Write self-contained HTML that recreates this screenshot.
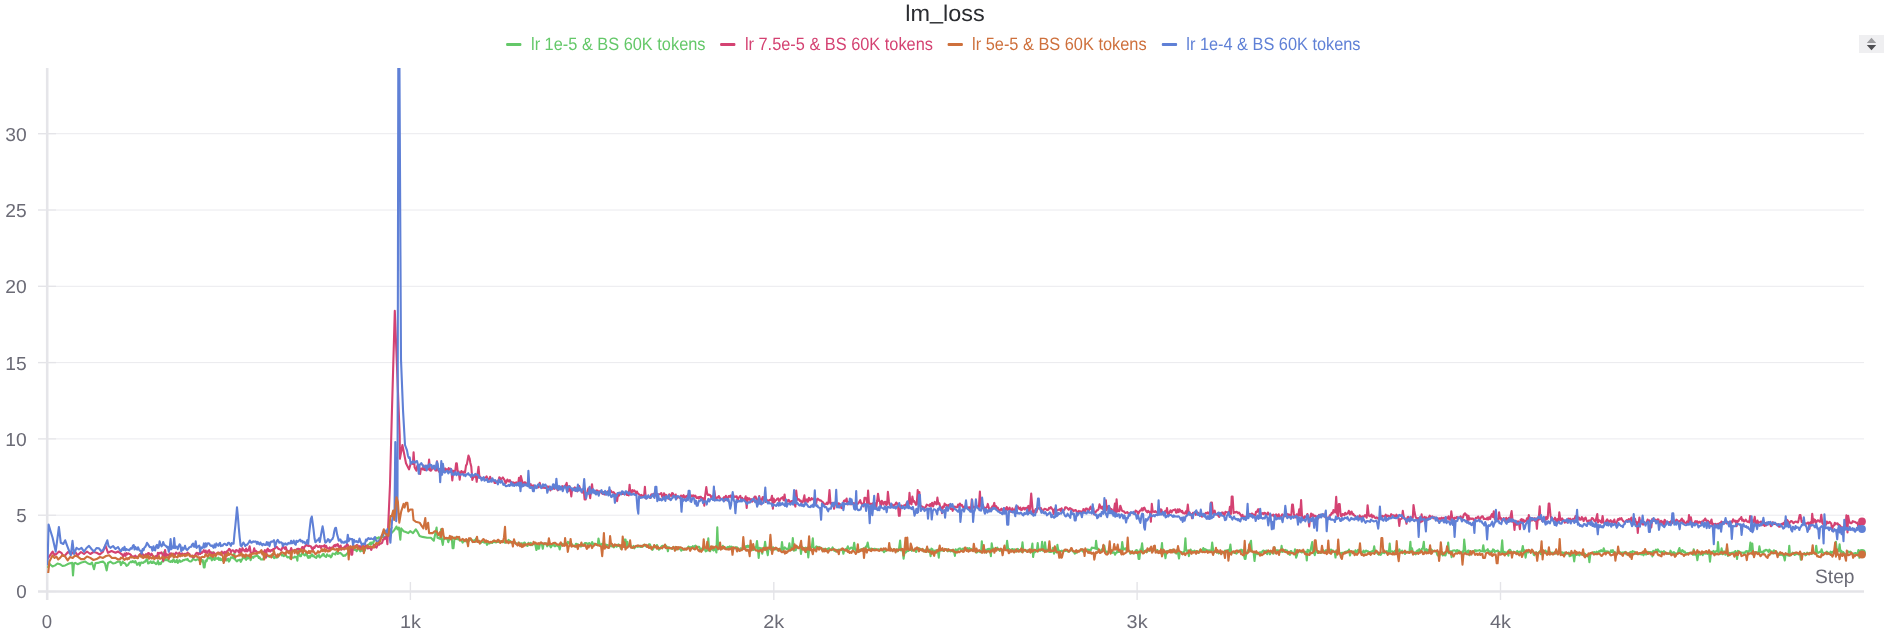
<!DOCTYPE html>
<html><head><meta charset="utf-8"><style>
html,body{margin:0;padding:0;background:#fff;width:1887px;height:636px;overflow:hidden}
body{position:relative;font-family:"Liberation Sans",sans-serif}
#btn{position:absolute;left:1859px;top:35px;width:25px;height:18px;background:#efeff1}
svg{position:absolute;left:0;top:0;will-change:transform;text-rendering:geometricPrecision}
.g{stroke:#eaeaee;stroke-width:1}
.t{stroke:#e4e4e8;stroke-width:1.4}
.ti{font-size:22.7px;fill:#2b2d31}
.lg{font-size:17.8px}
.yl{font-size:18.8px;fill:#6b6b76;text-anchor:end}
.xl{font-size:18.6px;fill:#6b6b76;text-anchor:middle}
.ln path{fill:none;stroke-width:2.1;stroke-linejoin:round}
</style></head><body>
<div id="btn"><svg width="25" height="18" viewBox="0 0 25 18"><path d="M7.8 7.9L12.5 2.7L17.2 7.9Z" fill="#9c9c9f"/><path d="M7.8 10L17.2 10L12.5 15.2Z" fill="#4e4e52"/></svg></div>
<svg width="1887" height="636" viewBox="0 0 1887 636">
<defs><clipPath id="c"><rect x="47" y="68" width="1830" height="530"/></clipPath></defs>
<text x="905.3" y="20.8" class="ti" textLength="79.5" lengthAdjust="spacingAndGlyphs">lm<tspan dy="-2.2">_</tspan><tspan dy="2.2">loss</tspan></text><rect x="506.1" y="43" width="15.3" height="3" rx="1" fill="#64c869"/><text x="531.0" y="49.6" class="lg" fill="#64c869" textLength="174.5" lengthAdjust="spacingAndGlyphs">lr 1e-5 &amp; BS 60K tokens</text><rect x="720.1" y="43" width="15.3" height="3" rx="1" fill="#d44272"/><text x="744.9" y="49.6" class="lg" fill="#d44272" textLength="188.1" lengthAdjust="spacingAndGlyphs">lr 7.5e-5 &amp; BS 60K tokens</text><rect x="947.6" y="43" width="15.3" height="3" rx="1" fill="#ce703c"/><text x="972.1" y="49.6" class="lg" fill="#ce703c" textLength="174.5" lengthAdjust="spacingAndGlyphs">lr 5e-5 &amp; BS 60K tokens</text><rect x="1161.8" y="43" width="15.3" height="3" rx="1" fill="#5f80d6"/><text x="1186.3" y="49.6" class="lg" fill="#5f80d6" textLength="174.2" lengthAdjust="spacingAndGlyphs">lr 1e-4 &amp; BS 60K tokens</text>
<line x1="56" x2="1864" y1="515.2" y2="515.2" class="g"/><line x1="38" x2="56" y1="515.2" y2="515.2" class="t"/><text x="26.6" y="522.1" class="yl">5</text><line x1="56" x2="1864" y1="438.9" y2="438.9" class="g"/><line x1="38" x2="56" y1="438.9" y2="438.9" class="t"/><text x="26.6" y="445.8" class="yl" textLength="21.4" lengthAdjust="spacingAndGlyphs">10</text><line x1="56" x2="1864" y1="362.6" y2="362.6" class="g"/><line x1="38" x2="56" y1="362.6" y2="362.6" class="t"/><text x="26.6" y="369.5" class="yl" textLength="21.4" lengthAdjust="spacingAndGlyphs">15</text><line x1="56" x2="1864" y1="286.3" y2="286.3" class="g"/><line x1="38" x2="56" y1="286.3" y2="286.3" class="t"/><text x="26.6" y="293.2" class="yl" textLength="21.4" lengthAdjust="spacingAndGlyphs">20</text><line x1="56" x2="1864" y1="210.0" y2="210.0" class="g"/><line x1="38" x2="56" y1="210.0" y2="210.0" class="t"/><text x="26.6" y="216.9" class="yl" textLength="21.4" lengthAdjust="spacingAndGlyphs">25</text><line x1="56" x2="1864" y1="133.7" y2="133.7" class="g"/><line x1="38" x2="56" y1="133.7" y2="133.7" class="t"/><text x="26.6" y="140.6" class="yl" textLength="21.4" lengthAdjust="spacingAndGlyphs">30</text><text x="26.6" y="598.4" class="yl">0</text><line x1="38" x2="56" y1="591.5" y2="591.5" class="t"/>
<line x1="47.2" x2="47.2" y1="68" y2="600" stroke="#e5e5e9" stroke-width="2.6"/>
<line x1="38" x2="1864" y1="591.4" y2="591.4" stroke="#e4e4e8" stroke-width="2.5"/>
<line x1="47.0" x2="47.0" y1="582" y2="600" class="t"/><text x="47.0" y="628.3" class="xl">0</text><line x1="410.4" x2="410.4" y1="582" y2="600" class="t"/><text x="410.4" y="628.3" class="xl" textLength="21" lengthAdjust="spacingAndGlyphs">1k</text><line x1="773.8" x2="773.8" y1="582" y2="600" class="t"/><text x="773.8" y="628.3" class="xl" textLength="21" lengthAdjust="spacingAndGlyphs">2k</text><line x1="1137.1" x2="1137.1" y1="582" y2="600" class="t"/><text x="1137.1" y="628.3" class="xl" textLength="21" lengthAdjust="spacingAndGlyphs">3k</text><line x1="1500.5" x2="1500.5" y1="582" y2="600" class="t"/><text x="1500.5" y="628.3" class="xl" textLength="21" lengthAdjust="spacingAndGlyphs">4k</text>
<text x="1854.5" y="583.3" class="yl" style="font-size:19.5px" textLength="39.5" lengthAdjust="spacingAndGlyphs">Step</text>
<g class="ln" clip-path="url(#c)">
<path d="M47.5 567.9L50.0 564.2L52.5 566.5L55.1 565.4L57.5 563.5L60.0 564.2L62.5 566.0L65.2 565.4L69.0 563.5L72.2 562.9L73.0 575.5L74.0 563.5L75.2 562.9L77.7 564.2L81.5 562.5L85.3 561.6L88.0 563.5L90.3 564.2L92.0 562.5L94.0 569.2L95.5 563.0L97.9 562.9L100.5 562.0L103.0 561.6L105.0 563.5L106.7 570.4L108.0 563.0L110.4 561.6L113.0 563.5L115.5 562.9L118.0 561.5L120.0 561.6L121.0 565.1L122.0 563.0L122.7 561.7L123.8 563.0L124.5 563.0L125.5 563.9L126.5 565.8L127.3 565.5L128.2 564.7L129.0 563.2L130.1 562.3L130.9 561.6L131.7 562.3L132.8 561.0L133.5 562.1L134.5 562.5L135.3 561.1L136.3 562.9L137.1 564.9L138.0 563.6L139.1 562.7L139.8 565.6L140.8 562.8L141.8 562.4L142.7 563.0L143.6 562.7L144.4 561.5L145.2 561.6L146.1 560.1L147.2 559.4L148.0 563.4L148.8 563.2L149.8 562.2L150.8 561.4L151.6 562.9L152.6 562.9L153.3 561.4L154.3 562.9L155.2 563.1L156.0 564.1L157.0 563.4L158.0 561.0L158.8 564.4L159.6 563.0L160.7 564.1L161.5 562.3L162.4 561.0L163.4 561.5L164.1 552.1L165.2 560.0L166.1 560.3L167.0 559.2L167.7 560.1L168.8 561.1L169.5 561.6L170.4 561.9L171.5 560.9L172.4 562.0L173.3 559.4L174.1 560.3L174.9 562.1L175.8 562.0L176.8 559.9L177.8 562.9L178.7 561.5L179.4 560.1L180.3 561.8L181.3 561.4L182.3 561.1L183.2 560.0L183.9 560.3L184.9 559.8L185.9 559.4L186.7 559.8L187.6 558.9L188.4 560.6L189.5 561.2L190.4 561.5L191.3 561.2L192.2 560.2L193.0 558.6L193.8 559.3L194.9 559.9L195.6 560.3L196.7 559.6L197.4 559.4L198.5 559.5L199.2 560.3L200.2 559.6L201.0 558.5L202.1 561.7L202.8 560.2L203.8 567.4L204.6 567.4L205.5 560.5L206.5 561.4L207.3 559.0L208.3 557.1L209.2 558.3L210.2 557.2L211.0 558.4L211.9 560.4L212.9 552.2L213.7 559.1L214.7 560.0L215.5 557.9L216.4 558.2L217.2 558.9L218.3 557.6L219.0 560.0L219.9 558.3L220.8 560.1L221.7 559.1L222.8 560.8L223.7 558.5L224.4 559.6L225.4 558.5L226.3 560.5L227.2 560.0L228.1 558.6L229.0 561.6L230.0 559.7L230.9 557.4L231.7 557.7L232.6 557.1L233.5 558.4L234.3 553.4L235.2 559.6L236.1 560.7L237.0 561.3L237.9 560.3L238.9 560.1L239.9 559.7L240.8 561.9L241.7 560.0L242.6 558.4L243.4 557.5L244.4 558.2L245.3 558.5L246.1 559.8L246.9 555.9L247.9 558.6L248.7 556.0L249.6 556.0L250.6 560.2L251.6 557.7L252.3 556.9L253.4 557.8L254.2 556.3L255.0 556.5L256.1 556.1L256.9 555.0L257.7 555.6L258.8 558.0L259.5 557.1L260.6 559.2L261.3 559.5L262.3 559.3L263.1 559.4L264.2 557.0L265.0 556.4L266.0 555.5L266.8 556.3L267.8 555.8L268.6 556.4L269.4 556.8L270.4 555.2L271.4 555.3L272.1 556.8L273.2 555.6L274.1 558.2L274.9 557.2L275.8 557.7L276.7 557.4L277.6 557.4L278.5 554.9L279.3 554.6L280.3 553.6L281.3 554.3L282.0 555.6L283.1 555.0L283.9 556.2L284.7 555.2L285.8 555.0L286.5 556.2L287.4 557.4L288.5 557.3L289.2 557.0L290.3 558.6L291.1 557.3L292.1 557.3L292.9 557.8L293.8 557.5L294.8 556.6L295.5 557.2L296.5 557.0L297.4 560.7L298.3 549.5L299.1 554.1L300.0 556.1L301.0 556.3L301.9 553.3L302.9 553.0L303.7 554.5L304.7 555.4L305.6 554.6L306.4 552.2L307.2 555.9L308.3 557.9L309.0 556.1L309.9 557.7L311.0 555.9L311.8 554.3L312.8 556.2L313.6 555.5L314.5 557.0L315.3 557.4L316.2 557.9L317.3 555.5L318.1 556.5L318.9 555.0L320.0 557.5L320.7 556.5L321.7 556.0L322.5 554.4L323.6 553.8L324.3 555.9L325.2 556.3L326.1 557.0L327.0 554.3L327.9 555.6L328.9 556.1L329.8 555.4L330.8 557.4L331.7 556.3L332.6 553.5L333.5 553.7L334.4 553.7L335.3 554.6L336.0 552.9L336.9 551.5L337.9 554.0L338.7 552.7L339.7 553.2L340.5 552.9L341.4 553.9L342.3 554.7L343.2 556.0L344.3 555.4L345.1 555.7L346.0 554.8L346.8 554.0L347.8 552.6L348.8 552.9L349.5 551.9L350.5 549.9L351.3 550.5L352.2 550.3L353.1 549.2L354.1 549.8L355.0 550.0L356.0 549.9L356.7 551.2L357.6 549.6L358.7 548.6L359.4 549.4L360.3 551.4L361.4 549.8L362.3 550.9L363.1 550.3L363.9 549.8L364.9 550.4L365.8 547.0L366.8 547.0L367.6 545.2L368.4 544.6L369.5 544.0L370.3 542.7L371.1 544.6L372.0 542.4L373.0 543.6L373.8 541.4L374.8 539.5L375.7 538.7L376.5 537.8L377.6 538.5L378.5 537.3L380.0 537.8L384.0 537.0L389.4 535.0L392.3 532.2L394.2 530.3L396.5 526.5L397.5 529.3L398.9 527.5L400.3 539.7L401.2 528.4L403.6 531.2L406.4 532.2L408.3 533.1L410.2 531.2L413.0 533.1L415.8 529.3L417.7 532.2L419.6 535.9L422.5 536.9L427.2 537.8L430.9 537.8L433.8 540.7L436.6 527.5L437.5 537.8L440.0 538.8L441.0 529.4L441.9 540.5L442.8 544.9L443.6 539.2L444.5 538.8L445.6 538.1L446.3 538.7L447.2 538.3L448.3 542.2L449.1 539.7L450.0 538.3L450.9 538.5L451.8 538.1L452.6 548.1L453.5 548.1L454.6 537.5L455.5 539.0L456.3 538.8L457.3 539.2L458.1 538.9L459.1 539.7L459.8 540.6L460.8 540.3L461.7 540.8L462.6 542.6L463.5 541.1L464.3 541.3L465.4 541.0L466.3 541.4L467.0 540.3L468.0 540.0L468.8 541.1L469.7 540.1L470.8 539.6L471.6 539.5L472.4 540.9L473.5 541.0L474.2 540.2L475.3 541.5L476.0 538.6L476.9 541.8L477.8 541.9L478.8 540.6L479.7 541.5L480.7 543.1L481.6 541.1L482.4 542.0L483.2 541.6L484.1 542.7L485.2 542.3L486.0 541.9L487.0 544.9L487.7 543.5L488.6 543.3L489.7 543.5L490.5 542.3L491.3 542.3L492.2 543.0L493.1 541.1L494.0 542.2L494.9 541.3L496.0 542.5L496.8 541.5L497.6 542.0L498.7 541.9L499.4 541.4L500.3 541.3L501.3 541.3L502.3 541.1L503.0 542.2L504.1 541.0L504.8 542.7L505.7 542.8L506.6 541.1L507.5 541.2L508.6 539.9L509.4 541.0L510.4 541.0L511.1 542.7L512.0 542.4L512.9 542.9L514.0 542.6L514.9 542.7L515.7 542.9L516.6 543.7L517.4 543.7L518.5 544.3L519.2 542.7L520.1 543.5L521.1 544.0L521.9 543.2L523.0 544.3L523.9 543.0L524.7 542.5L525.6 544.1L526.6 545.3L527.5 546.0L528.4 542.8L529.1 543.9L530.1 545.1L530.9 542.9L531.9 545.2L532.9 544.1L533.8 544.1L534.7 544.3L535.4 545.1L536.4 550.0L537.2 544.1L538.3 548.7L539.0 548.7L539.9 544.6L540.9 543.7L541.7 543.1L542.8 548.8L543.6 544.0L544.4 543.4L545.4 544.1L546.2 543.4L547.2 546.3L548.0 543.8L548.9 545.1L549.8 545.2L550.8 547.4L551.7 545.9L552.5 544.5L553.5 543.2L554.4 546.1L555.2 546.2L556.1 545.2L557.1 545.4L558.1 546.2L558.8 545.9L559.7 549.4L560.7 545.1L561.7 544.8L562.6 543.8L563.5 544.3L564.2 544.3L565.3 544.5L566.2 543.4L566.9 544.9L567.9 541.8L568.7 543.5L569.8 542.7L570.7 545.1L571.6 543.9L572.5 545.0L573.2 545.8L574.3 546.3L575.0 546.4L575.9 543.8L576.9 544.1L577.8 544.4L578.6 544.8L579.6 545.6L580.5 546.5L581.3 546.4L582.3 545.1L583.2 544.4L584.2 545.1L584.9 543.0L586.0 543.1L586.8 543.2L587.7 544.8L588.7 543.2L589.5 543.0L590.3 544.2L591.4 545.4L592.1 542.1L593.0 543.8L594.0 545.2L594.8 543.7L595.7 544.3L596.8 545.0L597.7 545.1L598.5 538.5L599.5 543.7L600.4 544.8L601.1 544.7L602.1 543.7L603.0 546.5L604.0 543.8L604.8 544.5L605.6 544.5L606.7 545.2L607.6 545.1L608.5 545.6L609.3 545.8L610.3 546.0L611.1 545.5L612.0 546.4L612.8 545.0L613.8 547.4L614.8 545.5L615.7 545.2L616.6 546.7L617.4 545.9L618.4 544.4L619.1 545.9L620.2 546.8L621.0 548.9L621.8 546.1L622.8 546.8L623.7 546.0L624.6 539.6L625.6 539.6L626.3 546.3L627.3 541.8L628.2 546.3L629.1 546.3L630.0 545.7L630.8 546.0L631.8 547.4L632.8 547.4L633.5 545.9L634.4 548.3L635.3 546.9L636.3 546.0L637.3 546.8L638.0 546.9L639.1 545.7L639.9 546.6L640.7 546.9L641.7 547.0L642.5 545.6L643.6 545.7L644.4 544.6L645.2 546.1L646.1 546.0L647.2 546.2L648.1 545.8L648.9 544.2L649.8 544.2L650.8 546.7L651.7 548.0L652.4 549.8L653.3 548.6L654.3 545.6L655.2 546.9L656.0 546.8L656.9 545.0L657.8 546.7L658.8 549.7L659.8 548.8L660.6 548.3L661.4 546.5L662.3 545.7L663.3 545.9L664.3 546.4L665.2 547.6L666.0 545.8L667.0 547.0L667.9 551.3L668.7 547.3L669.7 547.8L670.5 548.2L671.3 548.1L672.3 548.8L673.1 547.5L674.1 548.1L675.1 547.2L676.0 549.8L676.8 547.0L677.6 548.1L678.7 548.1L679.6 548.9L680.5 549.4L681.3 550.6L682.3 549.0L683.1 549.7L683.9 549.7L684.8 548.7L685.9 549.2L686.6 548.4L687.7 548.0L688.5 546.5L689.4 547.3L690.4 547.4L691.1 547.1L692.1 548.0L692.9 546.1L694.0 548.6L694.8 546.2L695.6 545.6L696.5 547.7L697.5 546.9L698.4 546.8L699.2 546.8L700.1 549.3L701.1 548.5L702.0 549.9L702.9 549.5L703.9 548.0L704.8 549.4L705.7 551.3L706.6 550.6L707.4 550.5L708.3 538.4L709.2 550.4L710.1 551.3L710.9 549.0L712.0 546.8L712.7 549.7L713.6 550.6L714.6 548.4L715.6 549.6L716.4 552.5L717.3 527.4L718.2 549.4L719.0 548.5L719.9 547.4L720.9 548.6L721.8 548.4L722.8 545.8L723.6 547.8L724.6 548.4L725.3 547.9L726.2 549.0L727.2 547.3L728.0 546.8L728.9 548.1L729.8 546.4L730.8 547.4L731.7 546.7L732.6 547.6L733.6 547.7L734.4 548.5L735.2 547.2L736.2 547.3L737.0 547.3L738.0 549.3L738.8 550.3L739.8 549.2L740.6 548.3L741.6 548.6L742.5 549.5L743.5 548.6L744.4 547.1L745.2 548.3L746.1 546.0L747.0 547.0L747.8 545.7L748.9 547.2L749.8 545.7L750.7 548.1L751.6 547.2L752.5 548.2L753.2 550.0L754.1 549.6L755.0 547.4L756.0 547.8L757.0 541.0L757.8 547.8L758.7 558.0L759.7 547.7L760.4 548.4L761.5 548.3L762.2 553.7L763.1 548.6L764.2 548.9L765.1 541.7L765.9 548.2L766.7 549.5L767.8 555.2L768.5 548.3L769.4 548.9L770.3 549.0L771.2 550.1L772.3 549.0L773.0 547.3L774.1 549.4L774.8 549.6L775.7 548.2L776.7 548.9L777.5 550.2L778.5 549.4L779.3 548.7L780.3 550.4L781.1 550.2L782.0 542.1L783.1 550.1L783.8 549.3L784.7 547.4L785.8 548.3L786.7 549.2L787.4 548.8L788.4 549.6L789.4 543.4L790.3 549.3L791.1 549.7L791.9 549.8L792.8 538.1L793.9 550.7L794.8 549.8L795.7 550.2L796.6 547.0L797.4 547.4L798.2 547.2L799.3 547.8L800.2 546.4L801.0 553.9L802.0 546.9L802.8 548.6L803.7 548.2L804.6 548.8L805.5 547.7L806.5 552.0L807.4 547.6L808.3 557.5L809.1 549.1L810.0 547.2L811.0 546.9L811.8 547.0L812.8 538.3L813.5 547.5L814.5 549.4L815.4 547.9L816.4 546.3L817.3 546.8L818.0 548.1L819.0 546.8L819.9 548.0L820.7 547.6L821.8 549.9L822.6 549.4L823.6 548.8L824.3 549.0L825.3 548.8L826.1 549.2L827.1 549.3L828.0 548.6L828.9 548.2L829.7 550.4L830.7 549.4L831.6 549.5L832.6 547.4L833.4 549.1L834.3 550.9L835.1 549.7L836.0 551.6L837.1 550.4L837.8 550.0L838.9 549.6L839.7 549.9L840.7 549.8L841.4 549.6L842.5 549.6L843.4 553.7L844.2 550.6L845.2 549.7L846.1 548.8L846.9 548.7L847.8 546.3L848.6 548.5L849.5 549.0L850.6 547.9L851.4 547.5L852.4 548.3L853.1 549.7L854.2 542.7L855.1 549.3L856.0 550.8L856.9 550.8L857.6 548.7L858.5 552.1L859.4 550.0L860.4 550.6L861.2 549.1L862.1 549.6L863.0 550.6L864.1 548.2L864.9 549.3L865.8 546.6L866.7 546.8L867.7 542.6L868.6 547.8L869.4 548.6L870.3 549.9L871.1 548.5L872.0 549.3L872.9 549.1L873.8 549.0L874.7 548.7L875.7 549.1L876.5 550.0L877.4 549.6L878.5 549.2L879.2 549.7L880.1 550.1L881.0 548.7L882.1 550.5L882.9 549.7L883.9 552.2L884.8 551.3L885.5 551.1L886.6 550.5L887.3 549.9L888.3 549.4L889.3 549.6L890.2 547.7L890.9 549.0L891.9 550.5L892.7 550.6L893.6 549.5L894.7 549.7L895.6 550.7L896.4 549.3L897.4 551.4L898.3 550.6L899.0 548.7L900.1 540.6L900.9 550.5L901.7 549.5L902.7 550.5L903.6 558.6L904.6 551.4L905.5 552.7L906.2 552.0L907.2 550.7L908.2 551.0L909.1 550.1L910.0 549.9L910.8 549.2L911.8 550.8L912.5 549.7L913.6 549.9L914.4 550.0L915.4 550.7L916.1 552.0L917.1 549.6L918.1 549.5L919.0 548.1L919.8 549.6L920.8 548.8L921.5 549.7L922.4 550.6L923.4 549.9L924.4 551.5L925.3 550.4L926.0 549.5L926.9 551.9L927.9 549.8L928.8 549.6L929.7 549.9L930.6 556.1L931.4 548.6L932.5 549.3L933.2 551.7L934.1 551.6L935.1 550.3L936.1 550.9L936.8 552.4L937.7 549.8L938.8 557.7L939.6 549.0L940.6 549.2L941.3 550.5L942.4 550.0L943.1 550.8L944.0 550.9L945.1 549.6L946.0 549.7L946.9 549.1L947.8 551.3L948.7 550.1L949.6 550.9L950.4 551.3L951.2 550.1L952.3 551.4L953.1 549.6L953.9 550.9L954.9 555.9L955.7 549.3L956.6 550.9L957.5 550.2L958.5 548.9L959.5 548.4L960.4 548.6L961.3 550.3L962.2 549.9L963.0 548.5L964.0 548.7L964.8 550.1L965.6 548.8L966.5 548.8L967.6 548.1L968.3 549.9L969.4 548.2L970.2 550.2L971.0 548.9L972.0 549.6L972.9 550.5L973.7 551.0L974.6 550.6L975.5 550.2L976.5 552.6L977.5 551.9L978.2 551.0L979.2 551.0L980.1 552.2L981.1 551.7L981.8 541.2L982.7 551.3L983.6 550.0L984.5 549.3L985.4 550.2L986.3 552.7L987.2 549.2L988.1 549.1L989.1 548.7L990.0 549.1L990.9 556.1L991.7 543.4L992.6 549.2L993.5 548.5L994.4 549.3L995.4 549.2L996.4 549.1L997.3 547.6L998.0 549.0L998.9 549.7L999.8 551.0L1000.8 549.6L1001.7 550.2L1002.7 550.1L1003.4 549.2L1004.3 549.2L1005.4 549.6L1006.2 549.2L1007.1 540.8L1008.1 548.7L1008.8 548.9L1009.7 549.6L1010.7 550.7L1011.6 549.2L1012.6 549.1L1013.5 550.8L1014.3 549.4L1015.3 550.0L1016.2 551.7L1016.9 549.7L1017.9 548.9L1018.7 550.5L1019.7 550.7L1020.5 549.5L1021.4 551.8L1022.5 542.3L1023.4 551.4L1024.3 550.4L1025.0 550.1L1026.0 551.0L1026.8 550.7L1027.8 550.3L1028.8 551.0L1029.7 551.7L1030.6 552.1L1031.3 550.6L1032.4 543.6L1033.1 557.0L1034.1 550.8L1034.9 552.1L1035.9 551.4L1036.8 551.0L1037.7 543.0L1038.6 550.6L1039.6 550.4L1040.4 550.8L1041.3 549.9L1042.1 541.8L1043.0 550.8L1044.1 550.8L1045.0 542.2L1045.8 549.4L1046.8 550.0L1047.7 549.9L1048.4 551.4L1049.3 552.0L1050.4 551.7L1051.1 552.0L1052.2 551.2L1053.0 547.7L1054.0 553.7L1054.9 550.8L1055.6 551.6L1056.7 552.5L1057.4 544.9L1058.3 550.4L1059.2 550.5L1060.2 551.4L1061.1 551.2L1061.9 550.6L1063.0 551.9L1063.7 550.8L1064.8 550.7L1065.5 551.0L1066.4 550.6L1067.3 550.9L1068.3 551.8L1069.2 551.5L1070.1 550.2L1071.1 549.4L1071.9 550.3L1072.8 551.4L1073.7 551.3L1074.7 553.6L1075.5 553.2L1076.5 552.6L1077.4 551.9L1078.2 551.6L1079.1 550.8L1079.9 550.5L1081.0 550.5L1081.9 549.3L1082.8 551.5L1083.5 551.3L1084.5 550.9L1085.5 549.5L1086.2 550.3L1087.3 549.5L1088.1 549.5L1088.9 550.8L1089.9 549.9L1090.7 550.3L1091.8 547.6L1092.7 547.7L1093.4 547.9L1094.3 548.0L1095.4 548.6L1096.1 540.8L1097.1 549.3L1098.1 548.7L1098.9 550.8L1099.7 551.3L1100.8 550.5L1101.7 549.6L1102.5 550.6L1103.3 545.7L1104.3 545.7L1105.2 550.7L1106.0 552.4L1106.9 551.6L1107.8 552.7L1108.7 551.3L1109.6 551.9L1110.6 552.7L1111.5 550.2L1112.4 552.8L1113.4 552.2L1114.1 552.5L1115.1 554.7L1115.9 552.8L1116.9 552.6L1117.7 548.3L1118.6 552.0L1119.5 551.9L1120.5 549.6L1121.5 549.8L1122.2 542.0L1123.3 549.8L1124.0 549.4L1124.9 548.5L1125.9 548.3L1126.7 551.2L1127.7 549.4L1128.6 550.8L1129.6 550.9L1130.3 553.8L1131.4 552.8L1132.2 551.3L1133.1 553.4L1133.9 552.7L1135.0 552.9L1135.7 550.4L1136.7 550.1L1137.6 550.6L1138.6 558.9L1139.4 558.9L1140.4 549.4L1141.1 549.9L1142.1 543.4L1143.0 551.6L1143.9 551.9L1144.8 551.6L1145.7 550.3L1146.6 552.4L1147.5 551.4L1148.3 550.0L1149.3 550.7L1150.2 549.7L1151.0 550.7L1152.0 550.3L1153.0 549.1L1153.7 549.5L1154.6 546.4L1155.5 550.7L1156.5 552.1L1157.3 550.0L1158.2 552.3L1159.2 552.3L1160.1 552.3L1160.9 553.3L1162.0 543.1L1162.7 553.2L1163.7 552.9L1164.5 552.5L1165.5 558.2L1166.4 551.2L1167.2 551.7L1168.2 550.8L1169.1 551.0L1170.0 551.4L1171.0 550.5L1171.7 550.7L1172.6 549.7L1173.5 551.2L1174.4 552.5L1175.4 551.3L1176.3 553.6L1177.1 549.9L1178.0 552.8L1179.0 558.5L1179.8 552.4L1180.8 552.1L1181.8 552.4L1182.6 553.7L1183.4 552.0L1184.4 551.5L1185.4 538.3L1186.1 549.8L1187.2 551.4L1188.0 550.4L1188.9 556.1L1189.8 552.0L1190.6 549.6L1191.6 551.2L1192.4 551.3L1193.5 551.6L1194.4 550.6L1195.2 551.2L1196.1 551.8L1197.0 551.2L1198.0 551.4L1198.7 553.0L1199.6 551.4L1200.6 549.5L1201.6 550.4L1202.5 550.8L1203.3 548.0L1204.1 551.8L1205.1 549.2L1206.0 549.9L1206.8 549.8L1207.8 551.5L1208.7 550.4L1209.5 550.3L1210.4 550.8L1211.4 550.3L1212.2 542.6L1213.2 550.6L1214.2 552.3L1215.0 551.0L1215.8 551.6L1216.8 552.5L1217.8 551.9L1218.7 553.4L1219.6 552.9L1220.5 551.9L1221.4 553.6L1222.3 552.1L1223.1 552.1L1223.9 552.9L1225.0 550.5L1225.8 552.5L1226.8 550.3L1227.5 550.5L1228.6 549.9L1229.3 552.2L1230.4 544.6L1231.3 552.5L1232.0 552.1L1232.9 552.4L1234.0 552.6L1234.9 552.9L1235.8 553.2L1236.5 553.6L1237.4 552.4L1238.3 551.1L1239.4 550.3L1240.3 551.3L1241.1 549.7L1242.1 551.9L1243.0 550.1L1243.7 554.2L1244.8 558.9L1245.5 558.9L1246.4 552.6L1247.3 552.1L1248.2 550.0L1249.2 551.6L1250.0 543.4L1251.0 540.8L1251.8 551.2L1252.9 551.8L1253.6 552.2L1254.5 561.0L1255.4 553.6L1256.4 553.4L1257.4 554.1L1258.3 553.0L1259.2 554.0L1260.1 552.1L1260.9 553.0L1261.8 552.3L1262.6 551.0L1263.7 550.5L1264.5 551.8L1265.4 551.8L1266.2 550.5L1267.2 554.3L1268.0 550.9L1269.0 551.3L1270.0 554.3L1270.8 551.6L1271.8 552.2L1272.5 551.7L1273.5 553.7L1274.4 547.4L1275.3 550.7L1276.1 550.4L1277.2 550.2L1278.1 550.3L1279.0 552.9L1279.7 550.9L1280.7 551.8L1281.6 545.8L1282.5 551.9L1283.3 551.5L1284.4 551.2L1285.2 549.9L1286.2 552.4L1286.9 550.4L1287.9 552.6L1288.8 553.8L1289.8 554.9L1290.7 551.1L1291.4 551.1L1292.3 553.1L1293.4 553.1L1294.2 553.1L1295.0 549.4L1296.1 557.6L1297.0 555.4L1297.8 550.3L1298.7 551.1L1299.7 551.7L1300.4 550.9L1301.5 552.5L1302.4 552.0L1303.3 551.4L1304.2 552.5L1305.1 552.4L1305.9 551.7L1306.8 560.5L1307.6 549.9L1308.6 550.2L1309.6 552.1L1310.4 551.3L1311.4 546.0L1312.2 542.1L1313.2 552.2L1314.1 553.2L1314.8 555.2L1315.9 546.0L1316.6 551.1L1317.5 552.8L1318.4 551.4L1319.3 552.6L1320.3 553.0L1321.1 552.7L1322.0 552.4L1323.1 550.2L1323.9 552.4L1324.9 551.9L1325.6 550.4L1326.7 550.3L1327.5 552.4L1328.5 549.5L1329.3 550.2L1330.3 552.5L1331.0 549.5L1332.1 552.4L1332.9 550.4L1333.9 551.8L1334.8 552.2L1335.5 557.5L1336.4 550.4L1337.5 551.3L1338.4 551.6L1339.3 552.5L1340.1 553.1L1341.1 554.1L1341.8 552.7L1342.7 552.9L1343.7 552.8L1344.6 552.5L1345.6 551.7L1346.3 552.4L1347.3 551.0L1348.3 551.5L1349.0 549.6L1350.0 555.5L1350.9 552.0L1351.9 552.0L1352.6 551.6L1353.7 552.0L1354.5 552.4L1355.4 550.3L1356.2 552.2L1357.2 551.8L1358.1 549.8L1359.0 551.4L1359.9 551.6L1360.8 551.9L1361.8 553.2L1362.6 552.3L1363.5 550.7L1364.5 552.6L1365.2 551.5L1366.1 550.5L1367.2 551.6L1367.9 551.2L1368.8 552.1L1369.8 552.1L1370.7 552.2L1371.6 551.4L1372.6 551.1L1373.3 551.7L1374.2 546.4L1375.1 551.9L1376.2 552.7L1377.0 551.4L1377.9 554.0L1378.9 554.8L1379.8 553.9L1380.6 555.0L1381.6 553.4L1382.3 552.4L1383.3 552.7L1384.2 553.2L1385.0 552.5L1385.9 551.7L1386.8 551.0L1387.7 552.4L1388.8 552.5L1389.7 543.6L1390.4 551.9L1391.4 551.6L1392.4 551.3L1393.3 552.4L1394.1 551.8L1395.1 550.7L1395.8 551.9L1396.9 551.9L1397.8 551.4L1398.6 551.3L1399.4 549.4L1400.3 552.6L1401.3 552.0L1402.2 550.6L1403.0 552.6L1404.0 552.3L1405.0 554.0L1405.7 551.7L1406.6 551.7L1407.5 551.7L1408.5 552.7L1409.4 552.3L1410.4 541.8L1411.1 552.4L1412.0 548.3L1413.1 552.4L1413.8 554.0L1414.7 552.5L1415.7 554.3L1416.5 551.4L1417.4 550.4L1418.4 551.3L1419.3 549.1L1420.2 552.3L1421.1 551.8L1422.0 548.5L1422.8 548.5L1423.8 541.8L1424.7 552.5L1425.5 552.0L1426.5 549.2L1427.3 551.2L1428.4 549.8L1429.1 551.5L1430.0 550.2L1431.1 549.4L1432.0 550.2L1432.9 550.8L1433.8 551.0L1434.6 551.4L1435.5 551.4L1436.4 551.8L1437.3 554.7L1438.3 555.8L1439.0 554.4L1440.1 554.4L1440.8 553.9L1441.7 553.7L1442.8 555.3L1443.5 552.7L1444.5 555.3L1445.5 555.4L1446.3 552.4L1447.2 552.5L1448.2 542.6L1449.1 553.3L1450.0 551.8L1450.7 551.2L1451.6 557.1L1452.5 550.8L1453.4 550.5L1454.5 550.4L1455.4 550.7L1456.1 551.9L1457.0 550.0L1457.9 551.2L1459.0 550.6L1459.9 551.7L1460.7 552.8L1461.6 553.7L1462.6 551.3L1463.5 551.9L1464.2 539.5L1465.3 550.2L1466.2 552.4L1467.1 552.7L1467.9 550.8L1468.7 550.6L1469.7 555.3L1470.6 551.4L1471.5 552.5L1472.5 551.2L1473.3 551.9L1474.3 550.8L1475.1 550.1L1475.9 551.3L1476.8 550.4L1477.8 550.7L1478.8 550.5L1479.6 550.0L1480.6 551.1L1481.4 551.2L1482.4 551.2L1483.3 545.2L1484.2 551.8L1485.1 551.4L1486.0 550.4L1486.9 550.2L1487.8 549.2L1488.5 552.2L1489.4 551.2L1490.5 552.5L1491.2 551.3L1492.1 552.1L1493.0 549.4L1494.0 550.0L1494.8 552.0L1495.9 551.1L1496.6 551.1L1497.7 550.5L1498.6 551.5L1499.5 552.2L1500.3 552.5L1501.2 551.9L1502.2 540.3L1503.1 553.2L1503.8 553.9L1504.7 551.8L1505.8 553.4L1506.6 552.9L1507.4 551.8L1508.4 555.7L1509.3 549.7L1510.1 549.7L1511.2 551.7L1511.9 553.5L1512.8 553.6L1513.7 551.7L1514.7 552.1L1515.7 552.8L1516.5 553.4L1517.3 550.9L1518.3 552.8L1519.1 551.9L1520.2 551.5L1521.1 552.0L1521.8 551.2L1522.8 546.0L1523.6 551.5L1524.5 550.4L1525.6 557.6L1526.5 552.4L1527.2 551.3L1528.2 552.4L1529.0 551.1L1529.9 551.5L1530.9 551.7L1531.7 550.8L1532.8 551.1L1533.7 554.6L1534.4 555.2L1535.4 552.5L1536.2 552.3L1537.3 553.1L1538.0 553.5L1539.1 552.0L1539.9 551.2L1540.8 554.3L1541.6 554.3L1542.7 551.9L1543.5 553.6L1544.5 551.8L1545.3 550.5L1546.2 552.4L1547.2 551.6L1548.0 553.0L1549.0 552.3L1549.8 552.6L1550.8 552.3L1551.7 553.6L1552.6 552.6L1553.4 553.0L1554.3 553.6L1555.3 551.7L1556.1 553.6L1557.0 552.9L1558.0 551.7L1558.7 552.1L1559.8 553.5L1560.7 552.2L1561.5 552.7L1562.3 552.3L1563.4 553.7L1564.3 552.5L1565.2 554.6L1566.1 553.3L1566.8 553.6L1567.9 553.5L1568.8 552.5L1569.6 556.2L1570.4 555.8L1571.4 555.5L1572.2 554.9L1573.1 553.4L1574.2 561.4L1575.1 554.5L1575.9 555.1L1576.9 554.8L1577.8 554.6L1578.6 554.3L1579.4 555.4L1580.3 554.1L1581.3 554.2L1582.2 554.2L1583.0 555.2L1583.9 553.5L1584.9 553.8L1585.7 554.5L1586.8 556.1L1587.5 556.2L1588.5 554.7L1589.4 562.2L1590.2 555.4L1591.2 553.1L1592.1 552.9L1592.9 552.9L1594.0 552.1L1594.8 552.3L1595.6 554.0L1596.7 551.7L1597.4 552.5L1598.5 552.1L1599.3 550.9L1600.1 551.6L1601.1 550.2L1602.0 551.3L1602.9 551.4L1603.7 548.3L1604.7 551.1L1605.6 552.7L1606.6 551.3L1607.3 551.4L1608.2 551.6L1609.3 553.0L1610.0 552.8L1611.0 550.3L1611.9 552.0L1612.9 550.2L1613.6 552.4L1614.7 551.8L1615.4 553.8L1616.3 553.4L1617.3 553.3L1618.1 552.7L1619.1 551.7L1620.1 552.2L1620.8 554.1L1621.9 552.5L1622.7 552.5L1623.7 553.0L1624.4 552.2L1625.3 551.9L1626.3 554.3L1627.1 553.4L1628.1 553.3L1629.1 555.4L1629.9 552.3L1630.7 551.8L1631.6 552.6L1632.6 551.1L1633.6 551.8L1634.5 551.7L1635.3 552.4L1636.1 554.0L1637.0 553.0L1637.9 553.4L1638.8 553.6L1639.9 554.2L1640.7 553.9L1641.5 554.4L1642.5 552.3L1643.4 555.3L1644.2 553.4L1645.3 554.0L1646.2 554.5L1646.9 552.7L1648.0 553.9L1648.8 551.9L1649.8 552.8L1650.6 552.1L1651.6 552.3L1652.4 556.4L1653.2 550.9L1654.3 551.9L1655.1 551.3L1656.0 549.6L1657.0 551.6L1657.9 549.4L1658.8 551.3L1659.6 551.4L1660.5 552.4L1661.3 551.6L1662.2 552.6L1663.1 551.9L1664.0 551.2L1665.0 552.2L1665.8 553.0L1666.9 553.6L1667.7 553.3L1668.6 553.9L1669.6 553.7L1670.5 550.7L1671.4 552.4L1672.3 553.7L1673.2 552.5L1673.9 552.0L1675.0 553.9L1675.7 553.3L1676.8 554.0L1677.6 553.7L1678.5 550.4L1679.4 548.1L1680.3 551.7L1681.3 552.5L1682.2 550.0L1683.1 550.8L1683.8 551.9L1684.8 551.6L1685.6 553.7L1686.7 553.4L1687.4 553.0L1688.4 553.8L1689.2 552.8L1690.3 553.3L1691.2 552.5L1691.9 552.8L1693.0 554.8L1693.7 549.2L1694.8 554.6L1695.5 554.2L1696.5 555.1L1697.4 560.2L1698.3 554.0L1699.1 554.0L1700.1 554.7L1701.1 552.8L1702.0 553.5L1702.7 555.2L1703.6 552.6L1704.5 553.4L1705.4 553.6L1706.3 552.6L1707.2 553.9L1708.3 553.5L1709.0 552.6L1710.0 561.7L1710.8 553.8L1711.7 551.7L1712.7 551.8L1713.6 550.9L1714.5 552.5L1715.3 552.0L1716.3 551.0L1717.3 551.4L1718.0 542.0L1718.9 552.1L1719.9 552.9L1720.7 554.0L1721.6 548.4L1722.7 554.3L1723.4 551.5L1724.5 551.5L1725.3 554.7L1726.1 552.9L1727.0 547.4L1727.9 555.9L1728.9 554.6L1729.9 552.9L1730.6 554.4L1731.5 552.9L1732.4 552.8L1733.3 552.3L1734.2 553.1L1735.3 551.0L1736.2 553.0L1737.1 559.0L1737.9 550.9L1738.9 551.3L1739.8 552.3L1740.5 552.3L1741.5 552.8L1742.3 552.7L1743.3 552.5L1744.3 554.2L1745.0 552.4L1745.9 551.2L1747.0 551.0L1747.8 553.3L1748.6 551.4L1749.5 550.6L1750.4 542.5L1751.5 552.1L1752.3 543.5L1753.3 554.8L1754.1 552.2L1755.1 552.0L1756.0 552.9L1756.8 552.5L1757.8 552.1L1758.5 553.4L1759.4 546.4L1760.4 552.3L1761.2 552.1L1762.2 551.7L1763.1 553.8L1764.1 550.5L1765.0 550.8L1765.7 549.9L1766.8 550.1L1767.6 550.7L1768.5 552.0L1769.4 549.7L1770.4 550.9L1771.1 553.4L1772.0 551.4L1773.1 553.5L1773.9 550.3L1774.9 551.2L1775.6 551.2L1776.5 551.9L1777.5 553.1L1778.5 555.2L1779.3 554.9L1780.2 554.1L1781.1 554.9L1781.9 554.5L1782.9 555.4L1783.7 555.4L1784.8 560.4L1785.6 553.9L1786.6 554.4L1787.5 555.2L1788.4 555.6L1789.3 545.7L1790.0 555.6L1791.1 554.5L1791.9 554.3L1792.7 552.7L1793.7 554.0L1794.7 555.0L1795.6 552.9L1796.3 554.2L1797.2 553.0L1798.3 554.4L1799.2 553.5L1799.9 552.8L1800.8 559.6L1801.9 554.4L1802.7 554.0L1803.7 553.7L1804.4 553.0L1805.4 555.3L1806.4 554.8L1807.2 552.7L1808.1 553.4L1808.9 553.5L1810.0 553.4L1810.8 553.7L1811.7 553.9L1812.6 553.4L1813.6 552.9L1814.5 553.1L1815.3 553.1L1816.2 545.7L1817.1 552.1L1818.1 553.0L1819.0 552.3L1819.8 551.7L1820.8 552.0L1821.6 549.2L1822.5 552.2L1823.3 552.8L1824.4 553.6L1825.1 553.3L1826.1 553.5L1826.9 551.7L1827.9 552.8L1828.8 553.8L1829.7 553.8L1830.6 551.7L1831.4 553.3L1832.4 551.9L1833.3 551.8L1834.2 550.9L1835.1 552.7L1835.9 541.7L1836.9 551.9L1837.7 551.4L1838.8 550.7L1839.6 544.4L1840.4 551.8L1841.4 550.8L1842.2 553.2L1843.3 552.1L1844.2 553.4L1845.1 555.9L1845.9 554.1L1846.9 554.0L1847.6 551.6L1848.6 551.5L1849.4 552.2L1850.4 551.7L1851.4 553.0L1852.2 553.8L1853.1 554.7L1854.0 553.2L1854.9 553.3L1855.8 553.0L1856.7 554.7L1857.6 554.0L1858.4 550.0L1859.4 557.8L1860.4 553.4L1862.0 553.0" stroke="#64c869"/><path d="M47.5 559.0L50.0 555.3L52.6 551.6L54.5 555.0L56.4 554.0L59.0 551.5L61.4 552.8L63.3 556.0L65.2 555.3L68.0 552.0L71.4 554.0L74.5 551.0L77.7 555.3L81.0 552.0L84.0 554.0L87.0 551.5L90.3 554.0L93.5 552.0L96.6 552.8L99.8 554.5L103.0 551.6L105.4 545.3L108.0 552.8L111.5 551.0L115.5 552.8L118.0 551.5L120.0 552.8L121.0 553.9L121.8 554.0L122.9 556.1L123.7 556.0L124.5 553.6L125.5 555.8L126.4 553.1L127.2 554.3L128.3 553.3L129.0 553.7L130.0 554.2L130.9 554.8L131.8 557.3L132.7 556.3L133.7 556.8L134.6 556.5L135.3 555.5L136.3 556.9L137.3 557.1L138.0 556.7L138.9 555.7L140.0 554.0L140.7 555.3L141.6 553.1L142.7 554.2L143.5 555.0L144.4 556.4L145.4 554.7L146.1 554.1L147.2 556.5L148.0 553.3L148.8 553.0L149.8 554.7L150.8 555.1L151.5 553.6L152.5 555.3L153.3 557.9L154.4 556.9L155.3 556.6L156.0 555.9L157.1 557.4L157.9 552.8L158.9 553.9L159.8 552.8L160.6 553.2L161.6 552.4L162.5 554.2L163.2 561.0L164.3 554.5L165.1 550.0L166.0 556.1L166.8 554.3L167.9 555.3L168.6 555.8L169.7 553.3L170.4 555.6L171.4 553.4L172.3 554.8L173.2 553.5L174.0 555.1L174.9 554.6L176.0 552.5L176.9 553.4L177.7 553.5L178.7 553.9L179.4 552.7L180.5 554.5L181.2 554.2L182.3 553.3L183.1 554.3L184.0 554.3L185.0 553.8L185.9 554.0L186.8 554.2L187.5 552.5L188.5 553.6L189.3 553.8L190.2 555.4L191.1 556.1L192.2 557.0L192.9 555.7L193.8 557.4L194.8 555.6L195.8 553.9L196.7 552.7L197.6 553.1L198.3 554.7L199.3 552.9L200.3 553.9L201.0 552.0L202.1 552.9L202.9 551.9L203.8 550.2L204.8 552.1L205.7 550.5L206.5 552.7L207.4 552.9L208.2 550.8L209.2 550.2L210.0 552.7L211.0 552.2L211.9 554.2L212.9 553.3L213.7 552.3L214.5 553.4L215.5 553.9L216.3 554.8L217.4 552.9L218.2 552.6L219.1 552.8L220.1 553.2L220.9 554.9L221.8 551.6L222.7 553.4L223.6 553.2L224.4 551.9L225.4 559.7L226.4 551.6L227.2 551.2L228.2 550.3L229.1 548.9L230.0 549.6L230.9 552.1L231.8 550.6L232.7 550.2L233.4 550.4L234.4 552.0L235.3 552.4L236.1 550.1L237.1 550.4L237.9 550.8L238.9 552.6L239.8 548.7L240.6 553.6L241.6 550.8L242.5 548.2L243.5 550.5L244.2 550.0L245.1 551.3L246.1 548.5L247.0 551.4L247.9 549.9L248.7 550.4L249.6 546.3L250.7 552.3L251.4 553.4L252.3 552.9L253.2 552.3L254.2 548.3L255.0 551.4L256.0 550.8L257.0 552.0L257.7 552.4L258.7 552.5L259.7 552.5L260.6 551.3L261.5 552.4L262.2 551.6L263.2 551.8L264.2 552.3L264.9 550.2L265.9 557.6L266.7 550.4L267.8 548.6L268.7 551.2L269.5 550.0L270.3 551.5L271.2 550.0L272.2 550.7L273.2 549.1L273.9 549.0L275.0 548.3L275.8 546.8L276.6 546.8L277.7 548.0L278.4 548.9L279.4 549.1L280.4 549.6L281.2 550.4L282.2 548.1L283.0 546.2L283.8 547.4L284.8 548.8L285.8 547.1L286.6 549.9L287.6 550.7L288.3 551.6L289.3 551.4L290.3 550.6L291.2 548.1L292.0 550.4L292.9 551.0L293.9 550.4L294.8 549.8L295.6 551.4L296.5 549.5L297.4 549.0L298.2 548.7L299.3 549.1L300.1 551.0L301.1 551.1L301.9 547.5L302.7 547.0L303.7 549.1L304.7 546.4L305.5 546.0L306.4 545.0L307.3 545.2L308.2 546.1L309.2 545.6L309.9 546.0L311.0 546.5L311.9 548.6L312.8 549.8L313.5 547.3L314.4 548.0L315.5 545.9L316.3 545.4L317.1 546.0L318.1 546.9L319.0 546.7L319.8 545.8L320.8 547.9L321.7 546.1L322.7 546.2L323.4 546.5L324.5 545.1L325.3 547.5L326.2 545.9L327.1 548.2L327.9 548.3L329.0 548.9L329.7 547.4L330.7 548.8L331.5 547.6L332.5 548.7L333.5 546.2L334.4 545.1L335.1 546.5L336.1 544.7L337.1 545.7L337.8 544.1L338.8 546.5L339.8 548.6L340.7 545.6L341.5 549.8L342.4 548.2L343.4 547.6L344.2 548.3L345.1 546.3L346.0 546.9L347.0 544.0L347.8 544.9L348.7 547.4L349.6 547.4L350.6 546.4L351.3 554.6L352.2 554.6L353.1 545.8L354.2 546.7L355.1 546.7L355.8 545.8L356.7 545.1L357.6 545.3L358.6 547.0L359.5 546.2L360.5 547.7L361.2 546.1L362.3 547.1L363.1 545.0L364.1 546.9L365.0 546.6L365.9 545.8L366.7 545.6L367.6 548.4L368.5 548.2L369.3 548.0L370.3 548.0L371.3 549.9L372.2 547.3L372.9 547.1L373.9 544.8L374.7 545.3L375.6 547.0L376.5 547.7L377.6 545.0L378.5 543.8L379.3 544.7L380.2 543.6L381.1 543.5L382.1 542.9L383.0 539.6L383.7 539.6L384.6 537.5L385.7 538.9L386.5 536.2L387.4 544.2L390.0 484.7L391.8 416.0L394.8 310.7L399.7 435.8L399.9 458.7L402.4 445.0L406.0 463.3L409.0 469.4L411.0 462.6L411.9 462.9L412.9 463.9L413.6 452.3L414.6 467.3L415.5 469.1L416.5 470.6L417.2 466.1L418.3 467.0L419.1 469.7L420.1 474.0L420.9 468.5L421.8 468.6L422.8 469.5L423.7 465.6L424.5 470.0L425.5 470.1L426.4 468.4L427.1 468.7L428.1 469.5L429.1 459.6L430.0 470.4L430.8 470.8L431.6 469.9L432.6 466.7L433.5 468.4L434.4 468.0L435.4 470.4L436.2 470.5L437.0 461.3L438.0 469.4L438.9 471.6L439.9 470.0L440.7 469.2L441.5 474.4L442.6 472.0L443.4 470.8L444.4 471.3L445.2 468.4L446.0 469.8L447.1 469.3L448.0 471.4L448.7 468.1L449.7 469.6L450.6 468.7L451.4 469.7L452.3 480.5L453.4 470.7L454.3 472.8L455.1 472.0L456.1 463.4L456.8 463.4L457.9 473.4L458.7 471.4L459.7 479.7L460.4 473.6L461.4 471.0L462.3 472.1L463.3 473.6L464.1 471.6L465.0 472.6L466.0 465.6L466.9 464.1L467.7 459.8L468.5 455.5L469.6 458.5L470.3 462.7L471.3 466.8L472.3 479.9L473.2 477.7L473.9 476.8L474.8 476.7L475.9 475.9L476.7 481.8L477.5 474.6L478.5 466.9L479.3 475.6L480.4 477.3L481.2 478.7L482.2 478.8L482.9 478.0L483.9 478.2L484.8 477.8L485.7 477.8L486.6 476.3L487.5 478.9L488.4 479.6L489.3 479.0L490.1 476.8L491.0 479.2L491.9 480.5L492.9 480.1L493.8 480.3L494.6 483.0L495.7 483.0L496.5 481.7L497.4 481.3L498.3 481.5L499.3 477.3L500.1 478.1L500.9 479.6L501.8 478.6L502.9 477.4L503.6 478.7L504.7 480.3L505.5 483.3L506.4 482.1L507.4 479.5L508.1 480.5L509.0 481.6L509.9 480.1L510.9 482.1L511.9 482.1L512.8 483.3L513.7 482.4L514.5 484.1L515.3 483.0L516.2 482.3L517.2 483.3L518.2 483.1L519.0 477.7L519.9 482.5L520.9 476.0L521.7 479.4L522.7 483.6L523.5 485.8L524.4 482.4L525.3 482.4L526.2 483.5L527.0 483.5L528.1 483.5L529.0 484.2L529.9 484.5L530.7 484.2L531.6 487.1L532.6 485.7L533.3 485.3L534.4 488.0L535.1 486.6L536.2 487.7L536.9 487.6L538.0 485.2L538.7 487.3L539.7 482.8L540.7 486.5L541.6 487.7L542.5 487.5L543.4 487.8L544.2 487.8L545.2 488.0L546.0 488.0L547.0 486.8L547.9 486.3L548.7 487.3L549.7 486.7L550.4 490.4L551.5 487.8L552.4 487.7L553.1 486.0L554.1 489.0L555.1 486.1L555.9 486.6L556.9 488.6L557.7 490.3L558.5 489.7L559.5 487.5L560.3 488.0L561.3 488.5L562.3 486.1L563.2 487.0L564.0 487.5L565.0 485.8L565.9 484.9L566.7 482.9L567.5 489.1L568.5 491.0L569.3 486.0L570.4 488.8L571.3 496.4L572.1 489.5L573.1 488.7L573.8 490.1L574.9 487.4L575.6 488.6L576.7 490.4L577.4 491.4L578.4 489.3L579.2 486.1L580.1 488.6L581.2 489.9L582.1 492.7L582.8 491.7L583.8 490.2L584.6 499.5L585.7 499.5L586.4 493.6L587.4 491.6L588.4 488.2L589.2 491.6L590.2 498.2L591.1 490.0L592.0 484.2L592.9 492.2L593.6 491.1L594.7 491.2L595.5 493.1L596.5 490.4L597.4 490.6L598.3 494.3L599.2 491.3L599.9 491.3L601.0 492.0L601.7 493.1L602.8 494.0L603.5 492.0L604.5 494.5L605.3 493.1L606.4 494.4L607.1 492.4L608.1 491.0L609.1 492.8L609.9 490.3L610.9 490.7L611.7 492.1L612.7 492.5L613.6 492.1L614.5 493.3L615.4 496.3L616.1 494.4L617.1 501.1L618.1 493.8L619.0 495.6L619.7 493.2L620.6 493.3L621.5 492.2L622.5 493.9L623.3 493.0L624.4 494.5L625.1 493.1L626.2 493.1L626.9 495.0L628.0 493.6L628.7 495.4L629.6 484.7L630.5 494.1L631.6 493.0L632.3 490.1L633.2 491.3L634.3 490.4L635.1 491.4L636.0 493.2L636.9 491.5L637.8 493.4L638.8 494.1L639.5 495.0L640.5 496.4L641.4 494.8L642.4 496.2L643.3 495.8L644.0 497.0L644.9 486.9L645.8 498.5L646.8 497.8L647.8 496.9L648.7 496.4L649.6 497.5L650.4 498.0L651.3 494.5L652.1 494.3L653.2 496.1L654.1 493.5L655.0 494.2L655.9 495.7L656.8 494.1L657.6 495.5L658.6 494.2L659.3 494.2L660.4 494.0L661.3 493.0L662.1 496.4L663.1 498.6L664.0 493.3L664.7 495.9L665.6 494.7L666.5 495.1L667.4 498.0L668.5 498.7L669.3 494.2L670.3 495.8L671.2 495.9L672.1 493.1L673.0 493.4L673.8 496.7L674.8 496.3L675.7 494.5L676.5 498.6L677.5 496.9L678.4 496.9L679.1 497.6L680.0 497.6L681.0 495.5L682.0 496.4L682.8 497.1L683.6 495.1L684.7 497.9L685.5 496.8L686.4 495.9L687.2 498.1L688.2 494.4L689.2 495.5L690.0 495.7L691.0 496.7L691.9 495.3L692.6 496.0L693.7 495.4L694.4 496.7L695.4 495.7L696.4 497.9L697.2 497.9L698.2 497.0L698.9 498.6L699.9 496.7L700.9 496.8L701.7 499.4L702.5 498.0L703.6 498.7L704.3 505.6L705.2 495.4L706.3 487.1L707.1 493.3L707.9 495.0L709.0 494.9L709.9 494.9L710.6 495.7L711.7 499.0L712.4 496.3L713.5 498.4L714.3 490.6L715.1 496.4L716.0 498.3L717.0 497.6L717.9 497.8L718.8 496.0L719.7 497.5L720.5 499.0L721.4 499.1L722.3 499.0L723.4 498.2L724.1 497.1L725.1 500.2L725.9 495.7L726.9 499.6L727.8 498.4L728.7 496.0L729.7 496.8L730.4 495.5L731.5 497.6L732.4 495.9L733.3 495.2L734.1 497.0L735.1 497.0L736.0 496.3L736.7 496.2L737.8 500.1L738.6 497.7L739.6 497.1L740.3 495.8L741.2 499.2L742.2 497.9L743.1 499.5L744.1 499.4L744.8 499.0L745.7 496.3L746.7 507.9L747.5 497.7L748.6 499.5L749.3 498.4L750.2 500.0L751.2 499.2L752.0 501.7L753.1 500.7L753.8 498.5L754.8 496.5L755.7 496.8L756.6 500.6L757.4 499.7L758.4 499.8L759.2 496.1L760.1 499.7L761.2 504.4L761.9 499.2L762.8 497.0L763.7 499.7L764.8 496.3L765.7 502.0L766.6 499.6L767.5 500.7L768.2 501.8L769.2 500.1L770.2 499.7L770.9 500.1L772.0 495.8L772.9 508.7L773.7 498.6L774.6 502.0L775.4 500.5L776.4 500.0L777.2 498.8L778.2 498.4L779.2 501.5L780.1 499.7L780.8 498.5L781.8 498.0L782.6 497.2L783.6 500.2L784.6 494.5L785.3 500.6L786.3 500.6L787.2 501.7L788.2 499.9L789.1 500.2L789.8 502.7L790.7 502.0L791.7 501.0L792.7 501.0L793.6 500.9L794.4 503.4L795.4 506.6L796.2 490.5L797.2 499.7L797.9 499.6L798.8 499.2L799.9 501.0L800.8 500.5L801.6 502.8L802.4 502.5L803.3 500.5L804.4 495.4L805.2 502.8L806.0 499.8L806.9 499.4L807.9 501.8L808.9 497.7L809.7 500.1L810.5 500.1L811.6 498.2L812.3 499.1L813.2 499.4L814.2 498.4L815.1 498.9L816.1 503.9L816.9 499.3L817.8 498.7L818.7 499.7L819.7 500.4L820.6 500.3L821.3 501.0L822.4 501.9L823.3 502.6L824.1 504.2L824.9 504.2L825.9 504.2L826.9 502.7L827.6 504.1L828.5 502.3L829.5 490.1L830.5 503.7L831.3 502.9L832.3 505.4L833.1 502.8L834.1 508.8L834.9 504.7L835.8 503.5L836.6 503.9L837.7 506.7L838.4 503.2L839.5 503.7L840.3 504.5L841.3 508.0L842.1 508.2L843.0 504.9L843.9 500.9L844.7 500.3L845.7 501.2L846.6 498.5L847.4 504.4L848.5 502.0L849.4 503.5L850.2 503.0L851.1 504.4L851.9 502.5L853.0 503.9L853.7 503.1L854.6 503.4L855.7 504.0L856.4 504.7L857.5 504.0L858.3 503.4L859.1 502.2L860.2 500.2L861.0 502.8L862.0 504.1L862.8 503.5L863.6 506.4L864.5 497.7L865.4 497.7L866.4 499.0L867.3 504.2L868.1 490.6L869.0 504.0L870.0 504.1L870.8 503.7L871.7 505.0L872.7 503.2L873.5 503.1L874.5 505.3L875.5 503.3L876.2 507.3L877.2 500.5L878.0 493.7L879.1 501.0L879.9 501.4L880.7 507.1L881.8 500.8L882.7 502.8L883.6 504.4L884.3 502.0L885.4 501.9L886.3 505.3L887.1 504.0L887.9 491.9L888.9 501.2L889.7 504.8L890.6 505.2L891.6 506.8L892.6 504.6L893.4 506.3L894.3 505.4L895.3 504.0L896.2 502.5L896.9 503.3L898.0 506.2L898.9 515.8L899.7 515.8L900.6 505.7L901.6 505.5L902.3 507.7L903.4 506.2L904.2 505.3L905.1 505.2L906.0 504.6L906.9 502.4L907.7 502.4L908.6 506.1L909.5 492.9L910.4 503.2L911.5 504.3L912.4 496.6L913.3 501.8L914.0 500.8L915.0 502.6L916.0 504.8L916.8 503.6L917.7 490.0L918.7 505.0L919.4 492.0L920.3 505.8L921.3 506.1L922.3 506.8L923.2 507.2L923.9 509.5L925.0 507.4L925.7 507.0L926.7 504.6L927.5 505.0L928.4 505.3L929.5 505.9L930.2 504.0L931.2 505.9L932.1 502.8L933.1 506.4L934.0 503.9L934.7 501.9L935.8 503.7L936.6 504.4L937.4 497.6L938.3 503.6L939.4 503.4L940.3 507.3L941.0 507.3L942.0 513.1L942.8 506.6L943.9 507.1L944.6 503.6L945.7 505.3L946.5 504.9L947.4 508.2L948.3 505.1L949.3 504.6L950.2 505.6L950.9 509.0L951.9 508.7L952.7 510.8L953.7 507.5L954.6 506.5L955.5 506.9L956.5 507.2L957.2 507.1L958.1 504.6L959.0 506.8L959.9 503.5L960.9 505.6L961.9 504.9L962.7 506.8L963.7 507.5L964.5 506.5L965.4 508.1L966.2 507.3L967.2 507.3L968.0 508.6L969.1 507.1L969.9 509.2L970.9 510.2L971.8 499.4L972.6 505.6L973.4 507.6L974.3 507.2L975.3 506.8L976.3 506.4L977.2 506.4L977.9 506.3L978.8 508.1L979.9 491.5L980.6 505.1L981.6 507.2L982.5 508.2L983.5 506.5L984.2 508.9L985.3 508.2L986.1 507.8L987.1 506.8L987.8 503.9L988.8 507.7L989.8 511.3L990.7 508.4L991.6 508.1L992.4 506.2L993.3 506.4L994.3 502.9L995.0 506.9L996.1 506.1L996.8 508.5L997.8 507.6L998.7 510.6L999.5 510.7L1000.4 509.8L1001.5 508.7L1002.3 510.5L1003.2 509.2L1004.2 508.4L1005.0 508.3L1005.9 510.7L1006.8 507.1L1007.8 509.9L1008.5 509.0L1009.6 507.6L1010.3 510.5L1011.2 512.0L1012.3 508.3L1013.0 511.6L1014.0 509.6L1014.8 510.6L1015.9 506.8L1016.6 508.3L1017.6 506.3L1018.5 507.7L1019.3 509.1L1020.3 507.5L1021.2 510.1L1022.2 509.7L1023.0 507.8L1024.0 507.8L1024.7 509.5L1025.8 508.1L1026.6 507.8L1027.4 508.9L1028.4 505.9L1029.2 513.0L1030.1 508.3L1031.2 493.6L1032.0 503.0L1033.0 514.4L1033.9 510.7L1034.8 511.8L1035.7 509.1L1036.4 512.2L1037.5 508.5L1038.4 508.5L1039.1 507.6L1040.0 508.5L1040.9 508.0L1042.0 510.6L1042.8 511.3L1043.7 509.8L1044.6 508.7L1045.5 509.1L1046.4 509.4L1047.2 510.1L1048.3 509.8L1049.1 507.9L1049.9 508.4L1050.8 507.1L1051.9 508.7L1052.8 509.6L1053.6 513.9L1054.5 510.0L1055.4 508.1L1056.3 510.5L1057.2 510.4L1058.1 509.8L1058.9 509.8L1060.0 509.0L1060.7 511.0L1061.6 508.3L1062.6 510.8L1063.5 510.3L1064.5 509.6L1065.2 507.4L1066.2 507.3L1067.0 507.8L1068.1 509.2L1068.8 509.8L1069.9 508.1L1070.6 508.5L1071.6 509.4L1072.5 509.5L1073.5 511.2L1074.3 510.7L1075.2 510.0L1076.2 510.5L1076.9 512.4L1077.9 512.2L1078.9 510.9L1079.6 512.3L1080.5 511.4L1081.5 511.5L1082.5 513.4L1083.4 509.0L1084.2 510.0L1085.0 511.9L1085.9 508.5L1086.9 508.6L1087.7 509.7L1088.7 510.9L1089.7 508.2L1090.6 506.7L1091.3 509.2L1092.4 509.7L1093.3 508.2L1094.1 514.4L1095.1 512.4L1096.0 511.6L1096.8 510.4L1097.8 510.2L1098.6 509.0L1099.5 504.4L1100.5 506.6L1101.2 508.5L1102.2 506.7L1103.2 509.6L1104.0 508.6L1104.9 506.2L1105.9 500.2L1106.6 510.3L1107.6 506.5L1108.5 506.1L1109.3 507.0L1110.2 508.7L1111.3 509.0L1112.0 509.9L1113.1 514.0L1113.9 511.3L1114.9 503.6L1115.8 512.6L1116.6 499.3L1117.6 511.5L1118.3 510.6L1119.3 511.2L1120.3 505.7L1121.2 508.4L1121.9 510.6L1122.8 511.2L1123.9 511.2L1124.8 512.8L1125.5 512.9L1126.6 512.6L1127.3 512.0L1128.2 513.3L1129.3 513.2L1130.0 513.1L1131.0 512.5L1132.0 512.9L1132.9 513.4L1133.8 512.3L1134.5 513.7L1135.6 510.6L1136.5 511.2L1137.3 511.6L1138.1 514.2L1139.2 511.9L1140.0 510.6L1141.0 510.4L1141.8 508.3L1142.7 510.5L1143.7 507.9L1144.4 507.6L1145.5 510.2L1146.2 511.0L1147.3 512.4L1148.1 510.8L1149.0 512.0L1150.0 511.9L1150.9 521.8L1151.8 503.8L1152.7 511.6L1153.6 511.7L1154.4 511.9L1155.4 511.1L1156.3 512.2L1157.1 512.5L1157.9 512.2L1159.0 512.0L1159.8 512.8L1160.8 509.2L1161.5 509.8L1162.4 514.2L1163.3 513.4L1164.4 513.9L1165.2 510.9L1166.2 512.5L1167.0 508.1L1167.9 514.4L1168.8 513.7L1169.6 512.1L1170.6 510.3L1171.5 512.5L1172.5 510.7L1173.3 510.1L1174.1 509.9L1175.2 509.3L1176.1 512.6L1176.9 512.6L1177.7 509.3L1178.7 512.1L1179.5 509.3L1180.5 510.5L1181.4 512.1L1182.2 510.9L1183.2 513.3L1184.1 513.2L1184.9 513.6L1185.8 511.3L1186.8 513.8L1187.8 504.5L1188.7 512.8L1189.5 512.1L1190.3 513.9L1191.2 514.1L1192.1 518.2L1193.0 512.8L1194.1 513.1L1194.8 512.5L1195.8 514.9L1196.6 512.5L1197.6 512.4L1198.6 513.7L1199.4 514.1L1200.4 514.5L1201.1 516.0L1202.0 516.6L1202.9 515.3L1203.8 514.6L1204.7 514.3L1205.8 512.8L1206.7 513.5L1207.6 512.4L1208.3 513.4L1209.3 513.7L1210.2 510.6L1211.0 502.5L1211.9 502.5L1213.0 513.8L1213.8 512.2L1214.7 510.7L1215.5 514.3L1216.6 514.4L1217.3 513.9L1218.3 515.7L1219.2 517.0L1220.0 513.4L1221.1 514.3L1221.8 512.5L1222.9 512.6L1223.7 514.5L1224.5 515.3L1225.4 511.7L1226.4 512.3L1227.4 512.4L1228.1 512.3L1229.2 512.4L1229.9 506.8L1230.9 513.9L1231.7 496.6L1232.6 496.6L1233.6 513.2L1234.6 512.0L1235.3 512.5L1236.4 511.8L1237.2 512.2L1238.1 513.3L1239.0 512.5L1239.8 513.6L1240.9 515.5L1241.8 516.9L1242.5 514.8L1243.4 518.7L1244.3 516.5L1245.3 518.2L1246.2 516.4L1247.2 517.5L1248.1 513.4L1249.0 516.0L1249.9 513.9L1250.6 516.0L1251.7 513.6L1252.5 513.8L1253.3 515.5L1254.3 514.9L1255.3 515.7L1256.0 511.7L1257.1 512.0L1258.0 509.2L1258.9 509.2L1259.6 514.2L1260.6 514.3L1261.4 514.2L1262.3 513.0L1263.3 514.2L1264.2 512.7L1265.1 513.0L1266.1 515.3L1266.9 514.9L1267.9 512.5L1268.8 514.2L1269.7 515.0L1270.4 514.9L1271.4 515.5L1272.4 515.5L1273.3 514.6L1274.0 516.5L1275.1 515.4L1276.0 514.4L1276.9 515.2L1277.6 518.1L1278.7 514.2L1279.4 517.6L1280.4 517.2L1281.3 516.0L1282.3 514.3L1283.0 515.5L1284.0 515.9L1284.9 516.3L1285.7 516.3L1286.7 516.5L1287.7 514.0L1288.6 514.9L1289.3 514.6L1290.2 516.5L1291.3 514.8L1292.1 504.6L1292.9 504.6L1293.9 513.7L1294.7 517.2L1295.8 517.5L1296.7 514.3L1297.5 517.5L1298.5 514.2L1299.2 509.3L1300.1 515.7L1301.1 500.0L1302.0 516.0L1302.9 517.7L1303.9 519.7L1304.6 516.4L1305.5 517.1L1306.6 515.9L1307.4 514.0L1308.3 518.0L1309.2 526.5L1310.1 518.0L1311.1 513.6L1311.8 515.8L1312.8 514.3L1313.6 516.8L1314.6 515.6L1315.5 515.9L1316.4 516.8L1317.3 516.3L1318.2 518.6L1319.1 514.8L1319.9 515.8L1320.9 515.9L1321.7 515.3L1322.7 515.7L1323.5 514.4L1324.5 515.1L1325.3 517.3L1326.4 516.7L1327.3 519.2L1328.0 518.5L1329.1 517.3L1330.0 515.1L1330.7 515.1L1331.7 512.8L1332.7 513.5L1333.4 510.1L1334.3 510.7L1335.2 512.4L1336.2 496.7L1337.1 513.8L1337.9 516.3L1338.8 504.1L1339.7 504.1L1340.7 515.9L1341.5 516.4L1342.5 514.0L1343.5 514.3L1344.3 515.3L1345.2 512.8L1346.1 514.2L1347.0 513.8L1348.0 512.9L1348.8 510.8L1349.8 514.5L1350.7 512.5L1351.6 511.5L1352.4 514.4L1353.3 513.9L1354.2 515.5L1355.0 515.7L1356.0 517.1L1356.8 519.1L1357.9 517.3L1358.6 517.5L1359.7 515.4L1360.5 517.4L1361.4 516.9L1362.4 516.3L1363.3 517.5L1364.1 516.2L1365.0 515.1L1365.9 516.5L1366.7 517.7L1367.6 505.2L1368.7 515.0L1369.4 516.1L1370.3 516.3L1371.4 514.5L1372.3 517.4L1373.1 515.7L1373.9 516.2L1375.0 517.9L1375.9 517.9L1376.7 517.3L1377.7 518.0L1378.4 519.0L1379.5 517.6L1380.2 517.6L1381.3 519.1L1382.1 515.8L1383.0 516.6L1383.9 516.3L1384.8 516.2L1385.7 514.7L1386.5 516.9L1387.5 515.5L1388.5 516.0L1389.4 516.3L1390.1 517.3L1391.2 514.2L1392.1 515.5L1392.8 515.4L1393.8 515.2L1394.7 516.2L1395.6 516.2L1396.4 514.6L1397.4 516.4L1398.3 517.1L1399.3 526.0L1400.1 519.2L1401.1 518.9L1401.9 518.5L1402.8 510.8L1403.6 516.2L1404.7 519.1L1405.6 519.5L1406.5 523.8L1407.4 517.6L1408.2 516.8L1409.2 521.1L1410.1 518.2L1411.0 517.2L1411.7 519.2L1412.8 517.8L1413.5 505.0L1414.4 510.9L1415.4 516.4L1416.3 518.1L1417.1 520.3L1418.0 518.0L1419.1 522.0L1419.9 517.2L1420.8 522.2L1421.6 514.3L1422.5 521.2L1423.5 518.0L1424.5 516.8L1425.2 519.8L1426.2 517.4L1427.1 519.1L1427.9 519.6L1428.9 517.0L1429.7 515.7L1430.7 516.9L1431.5 517.0L1432.4 516.3L1433.3 518.4L1434.2 517.3L1435.3 517.6L1436.1 518.2L1437.1 518.0L1438.0 520.8L1438.9 518.3L1439.7 518.4L1440.6 519.0L1441.6 517.6L1442.3 519.5L1443.3 517.9L1444.1 517.7L1445.2 519.3L1445.9 519.3L1446.9 517.4L1447.9 518.7L1448.6 516.3L1449.7 519.7L1450.6 519.8L1451.3 511.3L1452.2 517.5L1453.3 518.1L1454.0 519.5L1454.9 517.7L1456.0 518.2L1456.7 517.0L1457.7 517.2L1458.5 518.3L1459.4 517.8L1460.5 516.4L1461.3 517.6L1462.2 518.2L1463.0 517.4L1463.9 514.4L1465.0 513.3L1465.9 514.9L1466.6 514.5L1467.6 520.6L1468.5 515.8L1469.4 519.5L1470.3 518.4L1471.3 518.9L1472.1 518.6L1473.0 518.5L1473.8 520.0L1474.9 520.4L1475.8 517.8L1476.6 518.1L1477.4 517.7L1478.3 516.5L1479.4 519.5L1480.3 518.9L1481.0 517.3L1482.0 516.4L1482.8 516.4L1483.8 519.1L1484.6 518.6L1485.5 519.0L1486.6 519.3L1487.3 517.6L1488.2 519.5L1489.2 517.2L1490.2 519.0L1491.1 515.7L1491.9 514.1L1492.8 517.0L1493.8 511.2L1494.7 519.0L1495.6 518.2L1496.5 518.8L1497.3 520.5L1498.2 519.9L1499.1 512.3L1499.9 518.5L1500.8 517.9L1501.7 520.6L1502.7 520.8L1503.6 518.0L1504.6 519.3L1505.4 520.6L1506.2 517.7L1507.2 519.6L1508.1 521.0L1508.9 517.7L1510.0 521.4L1510.7 515.4L1511.6 511.1L1512.7 521.6L1513.6 520.3L1514.5 529.9L1515.3 520.7L1516.3 523.0L1517.0 524.8L1518.0 521.3L1518.9 523.2L1519.9 529.2L1520.6 519.9L1521.7 519.0L1522.4 523.2L1523.5 519.8L1524.2 521.9L1525.1 520.9L1526.2 521.2L1527.0 518.2L1528.0 520.1L1528.8 515.1L1529.6 519.2L1530.5 521.3L1531.5 518.2L1532.5 520.4L1533.3 519.1L1534.2 518.2L1535.0 521.0L1536.0 518.4L1536.9 528.8L1537.8 518.0L1538.7 519.6L1539.7 506.3L1540.4 519.1L1541.4 518.0L1542.3 521.2L1543.3 519.2L1544.1 520.0L1544.9 520.4L1546.0 517.0L1546.7 519.3L1547.7 518.2L1548.7 503.6L1549.4 503.6L1550.5 515.7L1551.4 518.6L1552.2 519.3L1553.1 519.3L1553.9 519.8L1555.0 517.7L1555.7 518.8L1556.8 524.1L1557.7 519.1L1558.6 521.1L1559.3 512.3L1560.4 519.9L1561.3 520.5L1562.2 518.4L1562.9 519.8L1563.8 520.3L1564.7 522.7L1565.8 521.1L1566.7 520.2L1567.4 522.8L1568.3 518.5L1569.2 519.3L1570.1 518.6L1571.1 519.7L1572.1 520.8L1573.0 518.9L1573.7 519.0L1574.7 518.8L1575.5 516.1L1576.5 518.9L1577.3 516.2L1578.2 519.3L1579.1 517.7L1580.0 519.8L1580.9 519.6L1581.8 517.1L1582.8 518.4L1583.6 521.1L1584.5 518.7L1585.6 517.6L1586.4 519.9L1587.2 521.6L1588.3 521.2L1589.2 520.3L1590.0 520.8L1590.8 520.9L1591.9 518.0L1592.8 518.5L1593.6 519.4L1594.6 521.3L1595.5 521.6L1596.2 518.6L1597.3 514.1L1598.0 522.5L1599.0 520.1L1600.0 520.6L1600.9 522.4L1601.6 522.7L1602.6 516.0L1603.6 522.8L1604.5 522.8L1605.4 523.5L1606.2 520.9L1607.2 519.3L1608.0 521.0L1608.9 522.2L1609.9 520.8L1610.6 520.2L1611.5 522.2L1612.4 521.3L1613.5 522.3L1614.3 519.6L1615.1 523.1L1616.0 523.8L1617.1 521.4L1618.0 519.0L1618.8 520.0L1619.6 518.4L1620.6 519.3L1621.4 518.2L1622.4 520.2L1623.4 521.4L1624.3 522.0L1625.0 521.9L1625.9 521.0L1626.9 520.0L1627.8 521.6L1628.7 519.0L1629.5 521.1L1630.4 519.4L1631.4 517.7L1632.2 521.8L1633.2 521.2L1634.0 522.5L1635.0 518.7L1635.9 522.2L1636.9 522.1L1637.8 532.9L1638.5 524.3L1639.4 517.5L1640.3 522.8L1641.2 523.5L1642.1 523.6L1643.0 524.7L1643.9 523.3L1644.8 523.8L1645.9 524.0L1646.7 522.3L1647.6 519.5L1648.4 521.5L1649.5 520.4L1650.2 521.8L1651.3 527.5L1652.2 519.1L1652.9 520.2L1653.8 521.0L1654.8 519.3L1655.7 521.0L1656.6 520.5L1657.6 519.3L1658.5 519.6L1659.2 524.1L1660.2 522.6L1661.0 520.8L1662.1 522.6L1663.0 521.5L1663.8 525.7L1664.7 519.7L1665.7 521.4L1666.4 523.6L1667.4 521.6L1668.2 523.3L1669.2 522.1L1670.1 524.7L1671.1 521.1L1671.8 523.3L1672.8 521.8L1673.6 520.8L1674.6 521.7L1675.4 522.6L1676.4 519.7L1677.2 520.1L1678.2 521.3L1679.2 521.7L1680.1 520.9L1680.8 520.2L1681.9 518.6L1682.7 522.4L1683.5 520.4L1684.4 522.7L1685.3 522.7L1686.2 523.1L1687.1 521.4L1688.1 524.1L1689.0 515.1L1689.8 522.5L1690.9 517.4L1691.8 522.7L1692.7 525.3L1693.5 523.9L1694.4 522.9L1695.3 521.2L1696.1 524.1L1697.1 521.2L1697.9 523.1L1699.0 521.9L1699.9 521.9L1700.6 523.3L1701.6 521.7L1702.6 522.4L1703.5 520.2L1704.3 520.3L1705.2 518.5L1706.2 520.5L1707.0 522.0L1707.8 520.7L1708.9 522.0L1709.8 523.9L1710.5 522.4L1711.5 519.5L1712.4 525.3L1713.2 523.8L1714.3 525.0L1715.0 523.9L1716.0 524.0L1717.0 525.7L1717.9 523.9L1718.6 525.6L1719.5 523.2L1720.4 524.9L1721.4 521.5L1722.4 523.3L1723.1 522.1L1724.1 523.4L1725.0 521.8L1725.9 522.6L1726.7 523.5L1727.7 522.0L1728.5 522.4L1729.6 523.1L1730.4 522.7L1731.3 521.3L1732.3 522.5L1733.1 519.3L1733.9 520.5L1735.0 521.6L1735.8 520.7L1736.7 526.2L1737.6 520.8L1738.4 521.2L1739.5 519.1L1740.2 518.9L1741.3 517.0L1742.1 520.6L1742.9 519.6L1744.0 521.5L1744.9 520.9L1745.7 519.7L1746.6 520.9L1747.4 521.9L1748.4 521.5L1749.4 522.4L1750.1 516.1L1751.1 520.3L1752.1 521.5L1752.8 520.4L1753.7 522.3L1754.7 516.7L1755.7 523.4L1756.6 523.6L1757.5 520.5L1758.2 523.2L1759.1 522.2L1760.2 521.9L1761.1 521.6L1761.9 525.2L1762.7 522.5L1763.7 524.9L1764.7 526.0L1765.5 523.1L1766.5 525.3L1767.2 522.7L1768.3 523.2L1769.0 523.8L1770.1 524.0L1770.9 526.2L1771.9 525.2L1772.6 522.2L1773.7 523.9L1774.4 523.9L1775.4 524.0L1776.3 524.4L1777.3 524.3L1778.1 524.2L1778.9 526.8L1779.9 526.8L1780.7 525.4L1781.6 523.9L1782.6 524.4L1783.5 522.9L1784.3 524.4L1785.2 520.7L1786.3 521.7L1787.1 519.9L1788.0 521.2L1789.0 524.3L1789.7 522.4L1790.8 521.3L1791.5 521.0L1792.6 522.1L1793.4 523.2L1794.3 522.4L1795.1 521.7L1796.0 521.5L1797.0 522.2L1798.0 522.4L1798.8 519.2L1799.7 515.1L1800.5 515.1L1801.6 521.9L1802.3 520.9L1803.2 522.9L1804.3 522.8L1805.1 524.6L1806.0 523.4L1806.8 523.6L1807.9 522.5L1808.7 523.0L1809.5 528.9L1810.4 522.2L1811.5 523.5L1812.2 513.7L1813.2 522.7L1814.0 519.3L1815.1 519.9L1815.9 523.4L1816.9 521.1L1817.8 520.3L1818.6 520.5L1819.4 521.6L1820.3 521.6L1821.3 514.7L1822.3 522.8L1823.0 523.8L1823.9 525.5L1824.8 523.4L1825.8 524.9L1826.8 521.5L1827.7 523.2L1828.5 523.0L1829.5 521.8L1830.4 522.8L1831.2 523.4L1832.2 530.5L1833.0 525.7L1833.9 525.8L1834.8 522.7L1835.6 524.3L1836.5 523.5L1837.6 523.4L1838.3 525.2L1839.3 524.8L1840.3 526.0L1841.1 527.3L1842.1 527.2L1842.9 528.3L1843.8 527.1L1844.8 526.6L1845.7 525.3L1846.4 515.4L1847.5 532.4L1848.2 515.9L1849.1 521.0L1850.1 523.0L1851.1 523.2L1851.9 522.8L1852.8 521.1L1853.8 521.8L1854.6 521.8L1855.5 522.2L1856.4 523.0L1857.4 522.6L1858.3 526.5L1859.0 524.4L1860.1 525.4L1861.0 521.9L1862.0 521.5" stroke="#d44272"/><path d="M47.5 565.4L48.6 524.5L50.5 531.0L52.6 537.7L55.7 551.6L58.9 527.0L60.8 542.8L63.3 544.0L65.2 540.3L67.0 545.3L70.8 555.3L72.5 540.9L74.0 554.0L76.5 547.8L79.0 549.5L81.5 547.8L84.0 551.6L86.5 548.0L89.0 545.9L91.5 549.0L94.0 551.6L96.5 548.0L99.0 548.4L101.0 551.0L103.0 550.3L105.0 546.0L107.3 540.3L108.5 546.0L110.4 547.8L113.0 546.0L115.5 549.0L118.0 547.0L120.0 550.3L121.0 551.2L122.0 549.2L122.8 548.0L123.6 550.0L124.5 546.8L125.5 550.4L126.4 549.0L127.2 549.8L128.1 549.8L129.2 550.3L130.0 549.2L130.8 548.2L131.8 548.7L132.8 546.0L133.7 545.0L134.6 549.5L135.4 546.9L136.3 548.7L137.3 549.6L138.0 547.3L139.0 549.5L139.8 550.8L140.9 550.9L141.6 553.7L142.7 549.0L143.6 550.2L144.3 547.8L145.4 546.7L146.3 544.7L147.0 542.8L148.1 544.3L148.8 545.7L149.8 547.1L150.7 547.0L151.5 547.3L152.4 550.8L153.5 546.2L154.2 549.9L155.1 550.4L156.2 545.9L157.0 544.8L158.0 548.1L158.7 547.3L159.6 541.4L160.7 544.9L161.5 546.3L162.4 545.4L163.2 542.1L164.1 544.7L165.2 545.5L165.9 545.9L167.0 547.5L167.8 546.7L168.8 551.7L169.6 549.0L170.6 539.1L171.4 549.3L172.2 546.5L173.3 547.9L174.2 538.0L175.1 548.2L175.9 547.1L176.7 546.5L177.7 549.2L178.5 546.7L179.6 544.3L180.4 545.4L181.3 551.4L182.3 547.6L183.0 549.8L184.0 548.5L185.0 545.8L185.8 548.6L186.8 550.0L187.6 549.5L188.6 548.3L189.5 547.3L190.4 546.8L191.3 546.8L192.0 544.7L193.1 543.6L194.0 546.7L194.8 546.8L195.7 541.3L196.6 547.9L197.6 546.5L198.3 546.2L199.3 545.6L200.1 551.8L201.1 547.3L202.0 548.2L203.0 547.4L203.9 543.4L204.6 547.5L205.7 543.3L206.4 546.5L207.5 543.5L208.2 543.3L209.2 543.5L210.0 545.1L211.1 545.9L212.0 545.4L212.7 546.6L213.7 547.8L214.5 544.4L215.5 547.3L216.4 543.4L217.2 544.8L218.3 545.8L219.0 544.2L220.0 542.8L220.8 546.2L221.7 545.6L222.6 545.8L223.6 544.2L224.6 543.8L225.5 544.2L226.3 545.2L227.2 545.0L228.2 542.7L229.1 542.7L229.9 544.0L230.9 545.8L231.7 543.1L232.6 543.6L233.6 543.7L234.4 534.5L235.4 525.1L236.3 515.7L237.0 507.4L237.9 516.5L238.8 527.9L239.7 537.7L240.6 545.4L241.5 546.3L242.4 544.3L243.4 542.5L244.4 544.1L245.2 546.1L246.1 544.9L247.0 544.9L248.0 543.7L248.9 542.2L249.8 540.5L250.6 542.4L251.6 542.8L252.4 541.7L253.4 541.4L254.1 541.9L255.2 541.4L256.0 541.8L257.0 543.9L257.8 541.9L258.6 543.4L259.6 544.4L260.4 542.5L261.3 544.2L262.3 545.4L263.2 543.9L264.2 544.4L264.9 545.0L265.9 545.0L266.8 542.0L267.7 544.8L268.7 542.5L269.5 546.1L270.4 542.7L271.3 541.5L272.2 541.8L273.0 541.3L274.0 540.2L275.0 546.7L275.7 544.7L276.8 541.1L277.7 539.9L278.6 541.3L279.3 542.7L280.3 542.4L281.1 542.2L282.0 543.0L282.9 546.2L283.8 543.6L284.9 544.3L285.6 543.4L286.7 544.6L287.4 544.5L288.3 542.9L289.2 543.4L290.3 543.4L291.1 540.8L292.0 543.3L292.9 542.9L293.7 540.5L294.7 543.8L295.7 544.7L296.4 540.8L297.5 542.0L298.2 541.2L299.1 540.6L300.0 539.6L300.9 541.3L302.0 540.8L302.8 542.7L303.6 541.6L304.5 542.2L305.4 543.8L306.3 542.8L307.3 540.2L308.2 543.9L309.2 532.8L310.1 525.2L310.8 519.2L311.8 516.6L312.8 523.9L313.5 529.2L314.6 538.8L315.4 542.2L316.4 541.2L317.1 540.2L318.1 540.2L319.0 538.3L319.8 542.0L320.9 535.4L321.8 530.4L322.6 526.4L323.5 531.5L324.5 538.5L325.3 542.6L326.3 542.0L327.1 540.8L328.0 539.1L328.9 539.9L329.7 542.2L330.6 540.9L331.5 539.7L332.4 539.2L333.4 536.5L334.3 531.3L335.1 528.2L336.0 527.8L337.1 534.4L337.8 536.7L338.8 540.8L339.8 539.5L340.5 539.6L341.5 542.6L342.5 541.6L343.2 542.8L344.1 542.8L345.2 541.3L346.1 542.4L346.8 542.8L347.8 534.7L348.6 541.3L349.7 538.5L350.6 539.3L351.3 539.0L352.3 539.1L353.1 545.6L354.1 539.9L355.1 541.7L356.0 541.8L356.7 541.0L357.6 542.3L358.6 542.1L359.5 538.6L360.5 541.7L361.4 543.8L362.2 545.6L363.1 543.5L363.9 543.9L364.9 544.3L365.9 539.6L366.7 540.7L367.6 539.0L368.5 538.0L369.4 538.9L370.4 538.9L371.1 538.4L372.0 538.9L373.1 539.4L373.9 538.6L374.9 537.0L375.6 539.4L376.7 541.4L377.5 541.6L378.4 541.5L379.4 539.9L380.1 538.9L381.1 537.5L381.9 535.2L382.9 535.7L383.9 532.7L384.7 532.9L385.7 530.6L386.4 533.7L387.5 529.0L388.4 532.7L389.3 532.0L390.0 529.3L391.0 530.7L391.8 527.6L389.4 533.5L390.4 542.7L392.0 521.3L394.0 510.6L394.5 515.2L395.3 442.0L396.2 521.3L397.5 499.9L398.6 -95.2L401.0 359.5L403.0 409.9L405.0 445.0L407.0 450.4L407.9 455.3L408.8 458.0L409.7 457.3L410.7 463.8L411.5 462.2L412.5 462.5L413.2 461.2L414.3 462.5L415.0 462.6L415.9 461.4L417.0 461.1L417.7 463.7L418.8 473.8L419.7 464.6L420.6 464.0L421.3 463.1L422.2 464.6L423.3 466.4L424.1 467.1L425.0 466.9L425.8 465.5L426.7 470.4L427.7 465.5L428.7 467.2L429.5 464.0L430.3 465.5L431.4 465.0L432.1 468.3L433.1 466.6L434.0 465.6L434.8 469.3L435.8 468.1L436.8 461.9L437.6 463.7L438.5 469.8L439.5 469.0L440.2 482.1L441.3 461.1L442.1 474.6L442.9 463.7L444.0 471.9L444.7 472.6L445.8 471.8L446.7 470.9L447.6 470.7L448.3 473.4L449.2 472.2L450.3 471.8L451.1 469.0L451.9 474.6L453.0 473.4L453.9 474.9L454.8 473.2L455.5 471.9L456.4 475.3L457.5 473.7L458.2 472.4L459.1 474.6L460.1 474.5L461.0 474.7L461.9 474.2L462.9 474.1L463.7 475.5L464.6 474.9L465.5 476.1L466.3 474.3L467.3 474.4L468.3 473.2L469.2 474.9L470.1 475.1L470.9 476.9L471.9 474.1L472.7 475.1L473.6 476.0L474.5 474.9L475.3 473.8L476.3 474.6L477.1 474.9L478.2 475.1L479.1 478.0L480.0 477.6L480.9 477.5L481.6 480.4L482.7 479.2L483.6 477.2L484.5 480.7L485.3 480.0L486.2 479.9L487.1 478.8L487.9 481.9L489.0 481.6L489.9 481.6L490.6 479.9L491.7 481.7L492.4 478.3L493.3 480.1L494.4 480.8L495.3 480.1L496.0 481.5L497.1 482.6L497.9 484.3L498.7 479.6L499.6 482.0L500.5 482.6L501.6 480.6L502.3 481.8L503.4 484.8L504.2 483.8L505.0 485.1L506.0 486.2L507.0 485.9L507.7 485.8L508.8 484.9L509.5 486.0L510.5 484.8L511.3 482.3L512.4 485.6L513.2 484.1L514.2 486.0L515.1 485.1L515.9 484.2L516.7 485.4L517.8 483.1L518.7 485.6L519.6 482.6L520.5 491.2L521.2 482.9L522.1 486.5L523.1 486.0L523.9 484.1L524.9 485.5L525.9 484.3L526.7 485.5L527.7 486.1L528.4 470.7L529.5 487.6L530.4 488.0L531.3 487.0L532.1 487.1L533.0 491.2L533.8 491.2L534.9 485.2L535.8 487.2L536.6 488.2L537.6 485.4L538.3 484.2L539.4 484.3L540.1 486.0L541.2 488.1L541.9 486.6L542.9 484.3L543.7 486.4L544.6 484.9L545.5 484.6L546.6 487.2L547.3 492.8L548.2 489.4L549.3 489.2L550.2 486.7L551.0 489.1L552.0 489.3L552.9 484.6L553.7 484.3L554.7 487.7L555.6 488.4L556.4 478.7L557.2 487.8L558.2 489.8L559.1 485.9L560.1 489.6L561.0 486.5L561.7 487.9L562.7 491.2L563.7 488.2L564.5 486.0L565.5 487.0L566.2 488.4L567.3 492.4L568.0 486.8L568.9 486.4L569.8 486.6L570.7 487.8L571.8 488.6L572.7 490.5L573.4 488.4L574.3 489.3L575.3 491.0L576.1 488.2L577.1 491.0L577.9 484.6L578.9 490.5L579.8 488.2L580.6 489.6L581.6 492.0L582.5 489.1L583.3 489.2L584.2 479.0L585.2 492.1L586.2 498.1L587.1 492.7L588.0 492.9L588.8 493.9L589.6 486.8L590.7 492.8L591.5 493.5L592.5 489.4L593.2 489.2L594.2 493.3L595.0 490.7L595.9 494.5L596.9 491.9L597.9 492.0L598.7 495.6L599.6 492.3L600.6 491.7L601.5 490.1L602.3 492.3L603.1 493.8L604.1 492.8L605.1 490.9L605.9 494.6L606.9 491.9L607.6 493.3L608.5 495.5L609.4 487.4L610.3 494.4L611.3 497.1L612.3 496.4L613.1 494.4L614.1 495.0L614.9 502.8L615.8 495.3L616.8 495.8L617.6 493.0L618.5 493.3L619.3 492.5L620.2 493.2L621.1 494.5L622.0 491.3L623.0 491.8L623.8 492.8L624.8 494.4L625.6 491.3L626.7 491.5L627.6 493.0L628.5 493.8L629.3 492.3L630.1 494.0L631.2 494.8L632.1 494.0L632.8 494.5L633.9 493.6L634.8 495.0L635.5 495.0L636.4 494.8L637.5 508.7L638.3 513.7L639.1 496.2L640.1 498.0L641.1 497.4L642.0 497.6L642.7 497.1L643.6 497.1L644.6 497.7L645.5 495.4L646.5 498.7L647.4 497.6L648.3 495.3L649.2 497.4L650.0 496.8L650.8 497.7L651.7 496.0L652.7 494.3L653.7 496.7L654.5 497.8L655.3 486.8L656.4 486.8L657.3 501.1L658.0 494.3L659.1 499.8L659.8 500.1L660.7 498.9L661.7 500.4L662.7 499.7L663.4 496.9L664.4 498.2L665.4 500.9L666.1 496.1L667.1 498.1L667.9 498.0L668.8 495.2L669.9 499.5L670.8 500.2L671.6 498.5L672.5 498.0L673.4 495.8L674.4 496.1L675.1 496.9L676.0 499.6L676.9 496.1L677.8 496.2L678.8 496.2L679.7 497.6L680.6 497.6L681.5 511.8L682.5 498.5L683.4 500.8L684.1 499.5L685.0 499.2L686.0 501.1L687.0 498.0L687.9 500.2L688.6 490.8L689.6 490.8L690.4 501.3L691.3 501.9L692.4 498.3L693.2 497.9L694.2 499.1L695.0 503.6L696.0 500.7L696.7 505.8L697.7 505.8L698.7 501.1L699.6 501.2L700.3 500.4L701.2 499.2L702.2 500.0L703.1 503.1L703.9 501.8L705.0 501.1L705.9 501.6L706.7 504.6L707.5 501.1L708.4 498.9L709.3 501.5L710.3 499.3L711.2 499.0L712.2 498.4L713.0 500.0L713.9 486.6L714.7 500.7L715.8 500.1L716.6 500.3L717.4 499.9L718.3 500.3L719.4 500.6L720.1 500.4L721.2 499.0L722.0 498.7L723.0 500.1L723.8 501.4L724.8 499.6L725.6 498.8L726.6 499.1L727.5 500.6L728.4 498.9L729.2 502.7L730.2 508.7L731.1 504.7L731.8 498.0L732.7 492.1L733.8 500.5L734.6 501.9L735.4 513.3L736.5 500.0L737.4 502.1L738.2 501.1L739.0 501.1L740.1 501.5L740.9 499.3L741.7 501.5L742.6 500.3L743.5 499.6L744.6 501.2L745.5 501.6L746.4 503.3L747.1 504.1L748.1 502.5L749.0 502.1L749.9 502.6L750.7 501.5L751.6 500.5L752.5 499.6L753.5 498.5L754.4 500.7L755.2 502.2L756.1 500.5L757.1 506.6L758.0 504.1L758.9 497.4L759.9 503.8L760.7 500.9L761.5 504.1L762.4 503.3L763.4 502.9L764.3 499.5L765.3 487.5L766.2 501.5L767.1 501.7L768.0 503.5L768.8 502.2L769.7 503.5L770.5 503.5L771.6 503.5L772.4 506.2L773.2 504.4L774.3 504.9L775.2 505.2L776.1 506.0L776.8 504.9L777.8 503.0L778.6 505.8L779.7 502.6L780.4 505.3L781.5 504.3L782.4 502.9L783.2 504.6L784.1 504.4L785.0 505.9L786.0 499.6L786.8 506.7L787.7 504.1L788.7 503.6L789.6 503.5L790.4 504.7L791.4 503.2L792.1 502.7L793.1 504.6L794.1 490.1L795.0 503.0L795.9 497.6L796.8 503.8L797.6 503.2L798.6 504.6L799.5 505.4L800.4 505.4L801.1 503.6L802.0 505.9L803.1 504.6L803.8 506.3L804.8 504.9L805.6 502.7L806.5 504.0L807.5 505.3L808.5 506.8L809.2 507.0L810.3 507.1L811.2 505.5L812.1 506.7L812.9 504.5L813.8 506.8L814.8 490.3L815.6 505.0L816.5 506.1L817.4 505.4L818.2 507.3L819.3 507.7L820.1 508.0L821.1 519.8L822.0 503.5L822.8 506.0L823.6 505.1L824.7 507.2L825.4 506.7L826.4 507.3L827.4 510.0L828.2 511.3L829.1 508.5L829.9 508.5L831.0 508.6L831.9 504.1L832.7 502.9L833.7 506.4L834.6 502.6L835.4 504.1L836.2 489.9L837.1 507.5L838.2 505.9L839.1 507.6L839.9 505.8L840.8 504.7L841.8 505.3L842.6 502.8L843.4 510.2L844.4 503.6L845.3 503.8L846.2 504.0L847.0 503.9L847.9 503.1L848.9 504.4L849.9 498.5L850.7 504.0L851.5 499.2L852.6 504.2L853.5 504.7L854.2 508.8L855.3 509.6L856.2 491.0L856.9 508.2L857.9 509.9L858.7 510.2L859.8 509.8L860.6 509.5L861.4 506.8L862.4 505.1L863.3 505.6L864.3 504.3L865.2 504.1L866.1 510.9L866.9 504.6L867.8 504.6L868.6 504.7L869.7 523.1L870.5 506.3L871.4 505.2L872.4 515.2L873.2 507.1L874.2 495.7L874.9 509.0L875.8 507.4L876.8 509.4L877.8 510.1L878.5 507.2L879.4 510.2L880.3 505.7L881.4 507.5L882.2 507.9L883.1 508.3L884.0 509.3L884.8 506.4L885.8 507.7L886.7 512.2L887.5 506.7L888.6 507.1L889.3 507.5L890.3 507.8L891.2 503.5L892.0 507.5L892.9 507.2L894.0 508.0L894.9 506.5L895.8 508.6L896.5 507.3L897.6 505.8L898.4 505.4L899.2 503.1L900.1 506.9L901.2 507.8L902.1 508.2L902.9 506.2L903.9 507.5L904.6 508.9L905.5 507.1L906.5 507.6L907.5 501.2L908.3 508.2L909.1 506.2L910.2 508.4L911.0 507.9L911.9 509.1L912.8 506.9L913.7 510.2L914.5 515.7L915.5 512.6L916.4 508.7L917.2 512.9L918.1 512.2L919.0 494.8L919.9 494.8L920.8 511.0L921.8 508.8L922.8 509.1L923.5 508.3L924.6 511.1L925.3 509.7L926.2 509.7L927.2 508.5L928.0 518.7L929.0 508.5L929.8 508.9L930.9 508.0L931.7 519.5L932.7 511.4L933.6 509.4L934.5 509.4L935.4 509.9L936.1 511.4L937.2 514.4L938.0 508.8L938.8 509.8L939.7 506.8L940.8 510.1L941.6 509.9L942.4 512.7L943.3 511.0L944.4 510.2L945.1 517.7L946.1 507.6L947.0 507.2L947.8 510.8L948.8 508.4L949.7 507.2L950.5 503.9L951.5 506.6L952.5 504.2L953.3 507.4L954.1 507.8L955.1 509.3L955.9 509.6L956.9 510.5L957.8 511.7L958.7 511.6L959.7 506.8L960.4 522.0L961.5 511.4L962.4 509.2L963.3 509.1L964.1 511.6L965.0 507.7L966.0 500.4L966.9 508.3L967.8 509.1L968.6 509.7L969.4 510.3L970.5 511.8L971.4 511.6L972.2 500.0L973.1 522.0L973.9 512.3L975.0 509.5L975.9 499.3L976.7 506.3L977.6 508.3L978.6 508.4L979.5 510.2L980.3 509.3L981.1 510.7L982.1 497.5L982.9 505.0L983.9 510.3L984.9 513.7L985.7 509.1L986.6 509.9L987.4 512.6L988.5 510.4L989.2 511.4L990.3 509.2L991.0 511.4L992.1 509.5L992.8 507.8L993.8 508.9L994.7 508.0L995.5 508.6L996.5 510.2L997.4 510.5L998.4 511.8L999.1 511.7L1000.1 512.9L1000.9 512.3L1002.0 514.0L1002.7 514.2L1003.8 508.1L1004.7 513.7L1005.6 512.8L1006.4 510.8L1007.2 524.6L1008.3 524.6L1009.0 511.3L1009.9 510.9L1010.8 511.4L1011.8 511.8L1012.6 512.4L1013.6 511.0L1014.4 512.5L1015.3 516.3L1016.4 505.3L1017.2 513.2L1018.2 513.5L1019.1 513.0L1019.9 513.6L1020.9 512.6L1021.8 513.7L1022.5 514.8L1023.4 515.4L1024.4 513.0L1025.3 513.9L1026.3 513.8L1027.2 509.5L1027.9 514.5L1028.9 512.7L1029.7 513.0L1030.8 511.1L1031.6 514.3L1032.5 513.7L1033.5 515.7L1034.4 514.6L1035.1 515.3L1036.0 509.7L1036.9 509.7L1038.0 498.6L1038.8 498.6L1039.6 508.5L1040.5 510.0L1041.4 512.8L1042.3 511.0L1043.3 512.8L1044.3 513.4L1045.1 511.9L1045.9 512.9L1046.9 515.4L1047.8 514.4L1048.8 513.6L1049.7 512.3L1050.5 513.0L1051.3 517.1L1052.2 514.9L1053.1 516.9L1054.1 517.8L1055.1 517.0L1055.8 505.2L1056.8 516.1L1057.7 515.5L1058.5 512.9L1059.5 513.9L1060.5 513.2L1061.3 513.6L1062.2 512.0L1063.2 509.9L1064.0 513.3L1064.9 515.7L1065.8 516.5L1066.8 515.6L1067.6 513.7L1068.5 515.4L1069.4 516.1L1070.3 517.9L1071.1 510.9L1072.0 514.2L1073.0 513.4L1073.9 513.8L1074.7 520.4L1075.7 520.4L1076.7 512.8L1077.5 515.6L1078.4 513.7L1079.4 513.2L1080.2 512.8L1081.0 513.7L1081.9 517.2L1082.8 512.3L1083.8 512.3L1084.6 512.7L1085.5 513.3L1086.6 513.6L1087.5 511.6L1088.2 510.9L1089.2 512.8L1090.2 512.7L1091.1 512.2L1091.8 513.6L1092.7 504.2L1093.6 512.5L1094.5 514.3L1095.6 515.3L1096.5 514.5L1097.2 518.2L1098.3 517.3L1099.0 514.8L1100.0 514.2L1101.0 516.2L1101.7 512.0L1102.8 511.8L1103.5 513.8L1104.4 498.0L1105.4 512.0L1106.2 514.6L1107.2 517.2L1108.0 513.0L1109.0 505.9L1110.0 513.3L1110.8 511.1L1111.7 513.4L1112.5 510.9L1113.4 515.8L1114.5 512.6L1115.3 516.7L1116.3 513.6L1117.1 516.3L1118.0 514.7L1118.9 514.3L1119.8 517.7L1120.7 516.0L1121.5 514.3L1122.5 515.0L1123.3 518.4L1124.4 515.4L1125.1 517.5L1126.1 522.5L1127.0 517.7L1127.8 518.2L1128.8 514.4L1129.7 515.6L1130.7 512.3L1131.4 512.4L1132.4 513.0L1133.4 511.9L1134.2 514.2L1135.1 513.5L1136.0 515.0L1136.8 518.8L1137.9 515.3L1138.6 517.4L1139.7 520.9L1140.4 522.9L1141.4 516.1L1142.2 513.7L1143.1 514.0L1144.2 527.4L1144.9 529.7L1145.9 519.1L1146.8 520.7L1147.8 519.6L1148.7 517.2L1149.6 517.0L1150.4 514.1L1151.3 515.6L1152.3 516.2L1153.0 515.9L1153.9 515.1L1154.8 516.3L1155.7 514.9L1156.6 514.8L1157.7 515.2L1158.6 500.3L1159.4 514.7L1160.4 513.9L1161.2 514.6L1162.1 513.4L1163.0 511.8L1163.8 515.5L1164.9 512.5L1165.6 517.4L1166.5 516.8L1167.4 515.7L1168.4 516.4L1169.3 514.9L1170.1 515.0L1171.0 515.0L1172.0 515.9L1172.9 516.9L1173.8 515.3L1174.7 516.6L1175.5 516.4L1176.5 516.5L1177.3 516.7L1178.2 516.3L1179.2 516.7L1180.1 518.1L1180.9 519.7L1182.0 517.5L1182.7 521.9L1183.7 517.2L1184.6 520.8L1185.6 516.7L1186.5 515.8L1187.2 515.6L1188.2 514.3L1189.1 512.3L1190.1 515.1L1191.0 514.4L1191.9 515.1L1192.8 518.2L1193.6 513.9L1194.6 512.5L1195.5 511.4L1196.3 510.3L1197.1 513.4L1198.0 515.0L1199.0 513.6L1199.9 516.1L1200.8 509.6L1201.6 514.5L1202.6 515.7L1203.4 513.8L1204.4 516.7L1205.2 514.7L1206.2 518.3L1207.0 518.9L1208.0 516.1L1208.9 518.9L1209.9 518.9L1210.6 503.3L1211.6 518.3L1212.5 517.2L1213.4 516.9L1214.3 513.9L1215.2 514.6L1216.0 514.4L1217.0 514.4L1217.9 513.0L1218.9 512.5L1219.8 515.7L1220.7 513.2L1221.6 515.5L1222.5 515.8L1223.4 516.0L1224.2 516.7L1225.0 520.2L1226.1 519.6L1226.9 515.5L1227.7 514.7L1228.6 512.2L1229.6 516.9L1230.6 516.1L1231.5 518.0L1232.4 519.6L1233.3 517.6L1234.0 516.5L1235.0 518.6L1236.0 519.3L1236.9 518.8L1237.6 520.2L1238.6 519.0L1239.4 520.9L1240.3 521.4L1241.4 518.0L1242.2 518.0L1243.2 517.8L1243.9 519.4L1245.0 517.7L1245.9 520.0L1246.7 518.3L1247.6 503.9L1248.4 518.2L1249.4 514.9L1250.4 514.4L1251.3 516.7L1252.1 515.2L1252.9 517.8L1253.8 516.1L1254.9 517.3L1255.7 521.0L1256.6 517.4L1257.5 515.5L1258.5 518.9L1259.3 518.0L1260.2 508.9L1261.1 518.1L1261.9 517.8L1262.8 518.6L1263.7 517.9L1264.8 518.5L1265.7 515.2L1266.6 516.5L1267.4 517.8L1268.3 525.4L1269.2 519.2L1270.2 513.6L1270.9 519.5L1271.8 529.3L1272.9 521.8L1273.7 528.7L1274.7 515.6L1275.6 517.2L1276.3 519.4L1277.4 518.6L1278.3 517.9L1279.1 518.8L1280.0 518.8L1280.9 517.1L1281.8 519.2L1282.6 522.2L1283.6 515.3L1284.4 516.3L1285.3 505.8L1286.4 514.8L1287.3 518.3L1288.2 516.7L1288.9 517.1L1289.8 516.7L1290.9 518.9L1291.6 516.9L1292.7 516.3L1293.4 517.8L1294.5 517.0L1295.2 516.4L1296.3 515.9L1297.0 516.5L1298.0 524.7L1299.0 517.2L1299.7 518.6L1300.7 522.5L1301.5 517.3L1302.6 520.4L1303.4 520.0L1304.4 519.6L1305.3 521.4L1306.1 519.5L1307.1 515.2L1307.9 515.2L1308.8 522.4L1309.8 518.8L1310.6 518.9L1311.5 521.1L1312.4 517.8L1313.2 517.5L1314.2 527.8L1315.0 520.0L1316.1 517.7L1317.0 530.8L1317.8 516.4L1318.8 515.6L1319.7 517.4L1320.6 514.5L1321.3 517.5L1322.2 514.0L1323.3 514.9L1324.1 516.6L1324.9 515.5L1325.8 510.6L1326.7 531.3L1327.7 518.0L1328.7 519.2L1329.5 516.7L1330.4 519.3L1331.3 519.8L1332.1 519.5L1333.0 519.8L1334.1 520.1L1334.9 522.0L1335.9 516.5L1336.7 519.1L1337.7 518.2L1338.6 517.9L1339.5 518.4L1340.3 521.0L1341.3 520.7L1342.0 518.0L1343.0 519.6L1343.9 518.9L1344.7 517.7L1345.8 517.7L1346.5 518.5L1347.5 517.0L1348.4 519.6L1349.3 520.7L1350.2 519.7L1351.2 517.9L1352.1 519.1L1353.0 518.6L1353.8 519.5L1354.6 519.6L1355.5 517.3L1356.5 518.9L1357.5 516.3L1358.4 520.4L1359.1 519.2L1360.1 518.1L1361.0 518.7L1361.8 521.7L1362.9 517.6L1363.8 519.8L1364.6 521.4L1365.6 522.8L1366.5 521.4L1367.2 521.0L1368.2 521.2L1369.0 521.3L1370.0 521.9L1371.0 519.5L1371.7 520.4L1372.8 520.8L1373.7 521.5L1374.4 521.2L1375.3 521.0L1376.4 520.5L1377.1 522.5L1378.2 528.6L1379.1 521.0L1379.9 506.5L1380.8 519.3L1381.7 517.7L1382.6 520.0L1383.4 520.7L1384.5 518.7L1385.4 517.1L1386.1 520.9L1387.2 518.9L1388.1 519.6L1388.9 517.6L1389.8 518.6L1390.6 518.3L1391.5 518.2L1392.6 516.2L1393.3 517.6L1394.4 517.9L1395.2 518.0L1396.1 518.3L1397.0 517.7L1398.0 517.7L1398.8 515.2L1399.7 514.9L1400.6 516.0L1401.6 515.2L1402.4 516.6L1403.4 518.0L1404.3 518.3L1405.2 518.5L1406.1 520.5L1406.8 521.9L1407.8 519.3L1408.7 518.8L1409.7 521.5L1410.4 516.9L1411.4 520.2L1412.3 519.0L1413.1 520.0L1414.1 521.1L1415.0 519.8L1415.8 520.5L1416.7 519.9L1417.8 520.2L1418.7 536.9L1419.5 518.6L1420.5 516.7L1421.2 519.7L1422.2 519.5L1423.1 519.4L1423.9 518.8L1424.8 520.8L1425.9 531.5L1426.6 519.4L1427.5 520.0L1428.5 518.6L1429.3 519.3L1430.3 518.8L1431.3 517.8L1432.0 517.2L1433.0 517.2L1433.8 517.4L1434.8 517.8L1435.8 520.7L1436.6 517.4L1437.6 519.9L1438.4 520.8L1439.3 523.0L1440.2 521.2L1441.2 520.7L1442.0 520.3L1442.9 519.8L1443.9 522.5L1444.6 522.3L1445.6 517.1L1446.6 523.1L1447.5 521.3L1448.3 521.4L1449.3 522.3L1450.2 524.7L1451.0 522.8L1451.8 519.3L1452.8 524.9L1453.7 520.2L1454.6 537.0L1455.6 521.1L1456.5 521.3L1457.3 520.9L1458.3 517.4L1459.1 517.8L1460.0 518.3L1460.8 518.4L1461.9 521.5L1462.8 519.5L1463.5 520.1L1464.6 520.1L1465.4 521.6L1466.3 520.9L1467.1 522.8L1468.1 521.5L1469.0 523.7L1470.0 522.8L1470.8 524.5L1471.7 525.2L1472.7 523.1L1473.5 522.0L1474.4 533.0L1475.2 519.7L1476.2 521.2L1477.0 521.2L1478.0 520.5L1478.8 519.7L1479.8 521.5L1480.7 521.2L1481.7 521.3L1482.5 523.4L1483.3 523.8L1484.3 525.5L1485.2 522.0L1486.1 524.6L1487.1 539.5L1488.0 526.1L1488.8 525.1L1489.7 525.8L1490.5 525.2L1491.6 523.0L1492.3 521.6L1493.3 526.6L1494.2 523.9L1495.2 522.1L1495.9 509.8L1496.8 521.5L1497.9 521.0L1498.7 521.0L1499.5 523.3L1500.6 523.3L1501.3 524.1L1502.4 520.0L1503.1 519.0L1504.2 518.8L1505.0 521.3L1506.0 523.1L1506.7 523.8L1507.6 520.3L1508.7 521.9L1509.5 518.6L1510.3 520.5L1511.4 521.6L1512.3 519.2L1513.2 520.9L1513.9 520.5L1515.0 521.8L1515.8 520.8L1516.7 523.4L1517.5 523.3L1518.5 524.0L1519.3 522.5L1520.4 522.0L1521.2 522.8L1522.2 522.8L1522.9 522.8L1524.0 529.1L1524.7 528.5L1525.7 524.6L1526.5 523.0L1527.6 521.3L1528.3 520.6L1529.2 531.6L1530.1 517.6L1531.1 519.7L1532.1 518.0L1532.8 519.4L1533.9 519.4L1534.7 518.5L1535.5 520.2L1536.5 518.9L1537.3 518.5L1538.4 516.7L1539.3 517.9L1540.2 518.5L1541.0 515.0L1541.9 519.9L1542.8 521.8L1543.8 516.8L1544.6 521.5L1545.6 524.6L1546.5 521.5L1547.2 523.6L1548.3 521.3L1549.1 522.4L1549.9 523.5L1550.8 520.7L1551.9 517.4L1552.7 520.6L1553.5 520.7L1554.6 524.9L1555.4 521.8L1556.4 525.8L1557.2 522.8L1558.1 522.8L1558.9 521.6L1559.9 523.4L1560.9 523.6L1561.6 523.6L1562.6 521.1L1563.5 521.0L1564.5 520.2L1565.2 520.2L1566.2 521.1L1567.0 519.2L1568.0 522.8L1568.8 520.1L1569.8 520.7L1570.7 523.5L1571.7 521.0L1572.5 520.6L1573.4 520.4L1574.3 523.0L1575.1 520.7L1576.0 521.9L1577.1 509.9L1577.9 524.6L1578.9 523.6L1579.8 525.9L1580.7 525.0L1581.5 526.2L1582.5 526.6L1583.3 525.0L1584.1 523.8L1585.2 524.5L1585.9 525.4L1586.9 526.0L1587.8 522.8L1588.8 523.6L1589.6 522.5L1590.5 524.8L1591.5 521.2L1592.4 525.9L1593.1 523.4L1594.0 526.4L1595.0 526.9L1595.8 522.8L1596.8 524.3L1597.8 534.3L1598.6 525.1L1599.4 527.2L1600.3 525.1L1601.2 527.2L1602.3 526.2L1603.0 527.5L1603.9 525.9L1604.8 522.8L1605.9 523.0L1606.6 525.1L1607.5 522.3L1608.4 525.6L1609.5 523.6L1610.3 523.7L1611.2 526.7L1612.0 523.5L1612.9 525.2L1613.9 524.7L1614.9 523.6L1615.7 524.7L1616.7 527.8L1617.6 526.2L1618.5 522.9L1619.3 524.4L1620.1 525.1L1621.0 526.0L1621.9 526.0L1622.8 527.1L1623.8 524.2L1624.7 524.2L1625.5 521.7L1626.6 521.1L1627.5 522.0L1628.3 521.2L1629.1 521.5L1630.0 521.0L1631.0 522.9L1632.0 526.3L1632.9 524.7L1633.7 514.1L1634.5 522.9L1635.6 525.8L1636.5 526.5L1637.4 526.3L1638.3 526.0L1639.0 523.9L1639.9 526.7L1641.0 520.7L1641.9 522.1L1642.6 515.5L1643.5 522.5L1644.5 522.1L1645.5 525.6L1646.3 522.9L1647.3 523.2L1648.0 521.6L1648.9 531.9L1649.9 531.9L1650.8 520.8L1651.8 522.7L1652.5 520.2L1653.6 518.0L1654.4 520.9L1655.3 520.9L1656.1 523.5L1657.0 521.1L1658.1 521.3L1659.0 529.9L1659.9 524.6L1660.7 523.6L1661.7 524.4L1662.5 525.6L1663.3 526.0L1664.2 527.1L1665.2 525.4L1666.0 524.6L1667.1 521.5L1668.0 522.4L1668.8 524.8L1669.7 524.2L1670.7 525.2L1671.6 522.6L1672.3 513.4L1673.3 513.4L1674.3 524.7L1675.2 522.4L1676.1 524.7L1677.0 521.5L1677.8 522.4L1678.8 524.9L1679.7 529.2L1680.5 522.9L1681.5 522.5L1682.2 523.0L1683.2 523.9L1684.1 524.5L1684.9 524.9L1685.9 525.2L1686.7 525.0L1687.8 523.8L1688.5 524.7L1689.5 524.5L1690.5 521.6L1691.4 524.8L1692.1 526.9L1693.1 523.1L1693.9 524.1L1694.8 525.5L1695.9 523.6L1696.7 524.1L1697.7 524.8L1698.5 527.5L1699.5 525.9L1700.4 525.9L1701.1 525.5L1702.2 522.3L1703.1 525.3L1704.0 526.8L1704.8 522.6L1705.8 524.0L1706.7 528.1L1707.5 522.1L1708.5 523.7L1709.4 528.0L1710.1 526.1L1711.1 525.7L1712.0 526.0L1712.8 527.4L1713.8 544.2L1714.6 524.6L1715.6 527.2L1716.4 527.5L1717.5 524.9L1718.3 528.5L1719.1 528.0L1720.1 523.9L1721.1 531.7L1722.0 524.1L1722.9 522.1L1723.7 524.1L1724.7 521.8L1725.6 518.1L1726.4 522.3L1727.2 521.7L1728.1 523.5L1729.1 526.5L1730.0 521.4L1730.8 523.0L1731.8 538.9L1732.8 525.8L1733.5 526.0L1734.6 526.2L1735.4 526.3L1736.2 523.7L1737.2 524.3L1738.2 524.2L1738.9 524.0L1740.0 525.1L1740.7 524.3L1741.6 535.0L1742.7 524.8L1743.5 524.2L1744.4 526.4L1745.3 526.9L1746.2 526.0L1747.1 527.7L1748.1 527.0L1748.8 528.9L1749.7 529.3L1750.7 531.0L1751.6 516.3L1752.4 532.2L1753.4 530.1L1754.3 523.3L1755.1 525.6L1756.1 524.6L1757.1 529.1L1757.9 524.6L1758.8 524.9L1759.7 525.9L1760.7 523.7L1761.4 525.1L1762.3 523.4L1763.4 517.9L1764.2 523.0L1765.1 523.4L1765.9 524.4L1767.0 522.4L1767.8 524.7L1768.6 522.1L1769.7 523.1L1770.4 521.8L1771.5 524.2L1772.3 525.2L1773.3 522.5L1774.0 523.2L1775.0 522.6L1775.9 523.6L1776.7 524.7L1777.7 525.6L1778.7 524.1L1779.6 524.8L1780.3 524.3L1781.3 526.4L1782.3 526.4L1783.2 528.6L1784.0 528.1L1785.0 526.6L1785.7 516.4L1786.7 526.4L1787.6 522.2L1788.6 527.2L1789.3 526.1L1790.2 525.3L1791.2 529.9L1792.2 531.5L1792.9 526.8L1793.9 527.9L1794.9 529.3L1795.6 526.0L1796.6 527.8L1797.5 527.2L1798.5 527.9L1799.4 530.0L1800.2 527.5L1801.0 526.6L1801.9 524.7L1802.8 525.2L1803.8 517.2L1804.8 524.8L1805.7 525.6L1806.6 527.1L1807.5 531.9L1808.4 529.9L1809.3 525.7L1810.0 525.0L1811.0 525.8L1812.0 524.9L1812.7 525.2L1813.8 525.4L1814.7 527.2L1815.5 527.2L1816.3 523.9L1817.4 528.7L1818.2 528.3L1819.1 538.5L1820.0 527.9L1820.8 527.0L1821.9 526.0L1822.7 526.8L1823.6 543.5L1824.4 514.2L1825.5 528.4L1826.4 527.4L1827.3 528.4L1828.1 527.3L1829.1 530.2L1830.0 527.7L1830.8 528.3L1831.7 529.4L1832.6 531.3L1833.4 531.6L1834.5 529.2L1835.2 530.5L1836.1 529.8L1837.2 539.3L1838.0 529.6L1838.9 525.9L1839.9 532.5L1840.8 527.6L1841.6 534.1L1842.6 527.9L1843.5 541.2L1844.3 519.8L1845.3 529.7L1846.2 529.1L1847.0 527.7L1848.0 529.9L1848.9 529.9L1849.7 526.9L1850.6 529.9L1851.6 529.7L1852.5 528.1L1853.3 530.4L1854.1 528.6L1855.1 531.8L1856.1 530.2L1856.8 527.8L1857.7 529.8L1858.7 525.9L1859.6 528.2L1860.5 530.6L1862.0 529.0" stroke="#5f80d6"/><path d="M48.2 573.0L49.4 561.6L52.6 555.3L54.5 558.0L56.4 556.6L58.2 559.5L60.0 557.9L62.5 555.0L65.2 556.6L67.7 560.4L70.0 557.0L72.7 557.9L75.0 555.5L77.7 556.6L81.0 559.1L84.0 559.1L87.0 556.5L90.3 557.9L93.5 560.0L96.6 559.1L100.0 557.0L103.0 557.9L106.0 556.0L109.2 555.3L112.0 558.0L115.5 557.9L118.0 559.5L120.0 559.1L121.0 557.6L121.8 558.1L122.9 557.6L123.6 559.1L124.6 559.9L125.6 558.7L126.3 558.2L127.2 559.4L128.1 558.0L129.1 558.9L130.0 557.1L130.8 557.3L131.8 556.8L132.8 557.5L133.6 557.7L134.5 558.1L135.5 557.8L136.4 557.8L137.2 558.1L138.0 558.2L139.0 555.5L139.9 555.0L140.9 556.6L141.8 555.7L142.5 557.8L143.6 558.0L144.4 556.9L145.4 555.4L146.1 557.8L147.0 557.6L147.9 555.4L149.0 558.8L149.9 556.9L150.8 557.5L151.6 558.5L152.5 558.3L153.4 556.0L154.3 559.2L155.3 558.1L156.1 557.8L157.1 558.1L157.9 558.7L158.9 556.0L159.7 558.8L160.7 558.8L161.5 558.0L162.4 556.9L163.2 556.9L164.1 558.7L165.0 557.7L166.1 557.4L166.9 557.3L167.9 557.2L168.8 559.1L169.6 555.5L170.6 556.7L171.4 555.0L172.4 553.8L173.2 556.5L174.0 557.5L174.9 555.7L175.8 556.8L176.8 557.1L177.6 557.4L178.5 554.5L179.6 555.9L180.3 556.4L181.3 555.3L182.2 555.8L183.1 554.7L184.0 555.4L185.0 556.1L185.9 554.5L186.7 555.6L187.6 554.4L188.5 554.0L189.5 555.8L190.2 556.4L191.3 556.0L192.1 555.6L192.9 556.5L193.8 556.4L194.9 556.4L195.8 556.0L196.5 555.8L197.4 557.3L198.3 557.4L199.4 557.3L200.1 564.2L201.0 557.4L202.1 556.8L202.9 556.9L203.7 557.1L204.6 556.9L205.6 554.2L206.5 554.8L207.4 556.5L208.2 556.3L209.1 553.9L210.0 554.4L211.0 555.8L211.8 554.8L212.8 557.0L213.6 555.3L214.7 554.3L215.6 556.2L216.3 554.9L217.2 553.3L218.2 552.8L219.2 554.4L219.9 553.6L220.8 552.6L221.8 554.8L222.8 556.1L223.7 563.0L224.6 560.4L225.5 554.3L226.2 555.8L227.3 555.6L228.1 552.4L228.9 554.9L229.8 554.1L230.8 554.1L231.7 554.4L232.6 555.3L233.6 555.3L234.5 556.1L235.3 557.4L236.3 556.2L237.1 556.0L238.1 555.7L238.9 555.1L239.9 555.6L240.6 553.7L241.7 553.4L242.5 556.8L243.5 554.8L244.2 555.4L245.2 557.1L246.0 554.4L246.9 555.5L247.8 555.5L248.9 555.9L249.8 554.3L250.5 557.8L251.4 554.5L252.4 553.6L253.4 553.8L254.1 553.2L255.2 553.8L256.1 553.1L256.8 553.8L257.8 552.8L258.7 552.2L259.7 552.5L260.4 551.6L261.4 550.1L262.3 554.4L263.2 552.6L264.2 559.5L265.1 553.5L265.8 554.9L266.7 554.3L267.7 555.2L268.6 556.0L269.6 555.9L270.5 556.1L271.4 557.5L272.3 554.0L273.0 555.0L273.9 550.7L274.9 554.4L275.7 555.4L276.7 557.0L277.7 554.3L278.4 556.5L279.4 554.9L280.4 554.1L281.2 552.5L282.2 552.2L283.1 552.8L284.0 553.5L284.7 553.1L285.6 554.6L286.5 551.0L287.6 552.1L288.5 553.1L289.2 551.4L290.3 552.3L291.2 559.1L292.1 551.4L292.8 550.8L293.9 550.6L294.6 553.2L295.5 550.0L296.6 550.9L297.3 553.7L298.4 553.2L299.1 551.4L300.1 551.5L301.1 549.1L301.8 550.9L302.8 552.9L303.7 549.9L304.5 550.1L305.5 551.6L306.3 551.4L307.4 553.1L308.2 553.0L309.0 550.9L310.1 553.2L310.9 551.1L311.9 551.3L312.8 551.7L313.5 551.2L314.4 552.6L315.5 554.2L316.4 553.2L317.1 552.8L318.0 551.2L319.0 552.7L319.9 551.9L320.9 551.1L321.8 549.0L322.7 551.2L323.4 550.8L324.4 548.9L325.3 551.6L326.1 549.5L327.0 550.5L327.9 551.6L328.9 550.6L329.7 551.1L330.6 549.9L331.5 549.5L332.5 548.1L333.4 549.3L334.2 549.1L335.2 549.8L336.1 549.4L337.0 548.6L338.0 551.3L338.8 548.8L339.7 549.7L340.5 549.0L341.6 548.6L342.4 548.2L343.2 548.8L344.1 549.4L345.0 548.6L345.9 548.7L346.8 548.5L347.9 547.5L348.7 559.5L349.5 546.7L350.5 546.4L351.3 547.6L352.4 546.6L353.1 548.4L354.0 546.3L354.9 548.2L355.8 546.6L356.9 545.5L357.6 549.0L358.5 547.7L359.4 548.6L360.5 549.4L361.3 549.3L362.2 547.5L363.0 546.2L363.9 553.1L364.8 548.1L365.9 547.6L366.8 546.9L367.6 545.7L368.6 546.9L369.3 547.1L370.3 546.3L371.1 547.4L372.1 547.0L372.9 546.8L374.0 547.6L374.7 545.0L375.8 544.1L376.5 542.9L377.5 544.1L378.4 543.1L380.0 541.6L383.8 529.3L384.7 533.1L388.5 535.9L390.4 516.1L391.8 516.1L393.2 510.5L394.2 519.9L396.5 497.3L397.9 502.0L399.3 522.7L401.2 511.4L403.6 503.9L404.5 507.6L405.9 502.9L407.4 502.9L408.3 511.4L410.2 509.5L411.1 509.5L412.5 509.5L413.5 519.9L415.8 521.8L419.6 522.7L421.5 525.6L423.4 528.4L425.3 518.0L426.2 529.3L428.1 522.7L429.1 533.1L432.8 533.1L434.7 531.2L436.6 531.2L438.5 535.0L440.0 532.2L441.0 537.1L442.0 528.9L442.7 528.9L443.6 535.6L444.6 538.6L445.4 538.1L446.5 537.9L447.2 538.2L448.3 538.0L449.2 538.1L449.9 535.9L450.9 539.4L451.7 536.6L452.6 537.2L453.6 538.4L454.5 538.0L455.4 538.8L456.4 536.9L457.1 536.9L458.0 537.5L459.1 536.8L460.0 540.2L460.9 540.2L461.8 539.7L462.5 538.9L463.6 539.4L464.4 540.9L465.4 539.9L466.2 539.1L467.0 540.9L468.1 546.2L468.9 538.3L469.9 538.2L470.6 538.3L471.5 539.9L472.6 542.1L473.3 541.9L474.4 542.0L475.1 541.8L476.1 541.2L477.0 536.7L477.8 542.0L478.7 541.0L479.8 543.6L480.7 541.7L481.6 541.0L482.4 540.1L483.4 539.0L484.2 540.0L485.1 541.9L486.1 540.4L486.8 541.9L487.7 541.0L488.8 542.3L489.7 542.5L490.5 541.8L491.5 542.5L492.4 541.5L493.3 541.3L494.0 540.3L495.1 541.0L495.9 541.3L496.8 541.8L497.8 539.8L498.6 539.9L499.5 541.7L500.3 542.9L501.4 541.0L502.3 542.1L503.0 541.8L504.0 537.2L505.0 526.9L505.9 542.2L506.8 542.5L507.5 541.4L508.6 543.2L509.5 542.1L510.2 541.8L511.1 542.2L512.0 541.9L512.9 546.5L514.0 539.3L514.7 541.7L515.8 543.9L516.5 544.4L517.6 545.6L518.5 542.6L519.4 544.9L520.2 546.2L521.1 543.9L521.9 547.1L523.0 546.6L523.7 544.2L524.7 545.6L525.5 544.3L526.4 544.6L527.5 544.1L528.4 544.4L529.2 543.5L530.2 544.9L531.1 544.7L531.9 544.4L532.9 544.3L533.6 541.7L534.5 543.4L535.4 542.5L536.3 543.5L537.2 544.0L538.3 543.2L539.2 544.5L539.9 543.1L541.0 542.3L541.9 543.2L542.8 543.3L543.6 544.1L544.5 543.4L545.5 543.4L546.2 543.5L547.3 544.9L548.0 544.5L548.9 538.2L550.0 544.2L550.7 543.8L551.6 544.0L552.5 543.8L553.4 543.0L554.3 542.9L555.4 542.8L556.3 544.1L557.1 544.5L557.9 544.4L559.0 544.9L559.8 543.9L560.8 542.4L561.6 544.2L562.4 545.9L563.3 545.4L564.4 545.8L565.1 538.1L566.0 545.3L567.0 544.3L567.8 551.9L568.7 546.6L569.8 545.5L570.6 539.0L571.6 546.7L572.3 545.5L573.2 546.1L574.3 545.7L575.1 546.6L576.1 546.8L576.9 545.3L577.8 549.1L578.8 544.9L579.5 545.2L580.5 545.5L581.4 542.5L582.2 545.8L583.1 545.2L584.0 545.9L584.9 544.5L586.0 546.9L586.8 549.0L587.7 545.6L588.6 547.5L589.4 545.7L590.4 545.1L591.4 545.9L592.1 548.1L593.1 546.1L594.1 545.6L594.8 544.1L595.7 543.9L596.6 544.7L597.6 545.2L598.5 545.4L599.3 545.4L600.2 546.1L601.1 546.4L602.2 556.1L603.0 546.9L603.9 533.1L604.8 548.7L605.7 546.0L606.7 547.3L607.5 547.1L608.3 548.0L609.2 547.8L610.1 536.1L611.0 543.7L612.0 543.7L612.8 546.3L613.9 546.4L614.8 544.3L615.5 545.3L616.6 544.9L617.4 545.5L618.4 545.8L619.1 544.9L620.2 545.9L620.9 545.2L621.8 549.5L622.7 536.5L623.8 546.9L624.6 542.2L625.5 549.5L626.5 547.6L627.4 547.7L628.3 546.1L629.0 546.4L630.1 540.4L631.0 547.7L631.9 547.8L632.8 547.9L633.7 546.9L634.6 547.4L635.4 546.4L636.2 545.7L637.3 546.0L638.0 545.4L639.0 545.9L639.8 546.2L640.7 545.8L641.8 546.0L642.7 546.7L643.6 545.2L644.4 544.7L645.4 545.0L646.1 544.9L647.1 547.0L648.1 545.3L648.9 548.0L649.8 547.7L650.8 546.7L651.5 549.3L652.6 547.2L653.5 547.0L654.2 545.1L655.2 547.3L656.2 546.4L656.9 548.8L657.8 546.7L658.7 548.3L659.7 548.2L660.5 547.8L661.4 547.8L662.3 548.3L663.4 546.3L664.3 546.8L665.0 544.6L666.0 548.2L667.0 547.5L667.7 548.2L668.8 547.6L669.7 548.1L670.6 548.1L671.4 548.6L672.4 548.2L673.3 546.9L674.0 548.0L674.9 550.8L676.0 546.9L676.8 547.1L677.7 549.5L678.7 547.2L679.6 547.6L680.5 547.2L681.4 547.8L682.3 548.0L683.2 549.1L684.1 549.6L685.0 548.5L685.9 549.7L686.8 549.4L687.5 548.1L688.6 547.7L689.5 549.1L690.2 550.8L691.3 548.5L692.2 547.8L693.0 548.3L693.8 548.7L694.8 549.5L695.6 548.6L696.6 546.7L697.5 549.2L698.5 550.5L699.3 551.4L700.3 550.2L701.2 551.8L702.1 550.6L702.9 549.7L703.7 539.4L704.6 547.6L705.6 547.6L706.5 548.6L707.3 541.7L708.2 547.9L709.3 550.6L710.2 549.5L711.1 546.3L711.8 548.6L712.8 546.5L713.7 548.2L714.6 547.1L715.4 546.7L716.4 546.3L717.3 547.9L718.2 549.0L719.2 548.3L720.1 542.5L720.8 549.6L721.8 547.1L722.7 548.7L723.6 546.8L724.6 547.0L725.3 549.2L726.4 549.3L727.2 549.5L728.2 548.7L728.9 549.7L730.0 548.5L730.9 549.3L731.7 547.9L732.5 554.8L733.5 547.4L734.3 548.0L735.2 547.9L736.2 548.6L737.1 551.4L738.0 548.3L739.0 549.8L739.7 551.0L740.8 550.1L741.7 550.3L742.5 548.8L743.3 537.1L744.4 549.1L745.3 548.3L746.1 550.7L747.1 550.8L747.8 549.5L748.9 551.3L749.7 556.1L750.6 540.5L751.6 550.5L752.3 548.5L753.2 544.1L754.2 548.9L755.2 549.5L756.1 550.7L756.8 550.2L757.8 550.8L758.6 551.6L759.6 551.1L760.6 549.6L761.3 549.9L762.2 552.0L763.3 547.9L764.0 548.1L765.0 550.1L765.8 547.6L766.9 549.5L767.8 547.6L768.7 547.7L769.4 548.5L770.4 534.9L771.4 547.6L772.1 554.0L773.0 549.7L774.1 548.1L774.8 549.2L775.8 547.7L776.6 548.3L777.5 548.7L778.5 550.9L779.4 548.9L780.4 550.9L781.3 551.7L782.1 552.3L783.1 551.8L783.8 550.8L784.9 553.6L785.7 551.3L786.5 552.8L787.4 552.2L788.3 550.7L789.3 550.4L790.1 550.8L791.1 549.9L791.9 548.4L793.0 549.1L793.7 549.6L794.6 544.3L795.5 547.8L796.4 545.7L797.4 547.1L798.3 548.3L799.3 548.2L800.0 546.2L801.1 540.9L801.9 549.0L802.9 549.6L803.8 547.9L804.5 550.0L805.5 552.1L806.3 548.4L807.4 548.4L808.1 549.7L809.1 536.3L810.1 550.2L810.9 548.7L811.7 549.9L812.8 554.2L813.7 548.9L814.4 550.4L815.3 549.8L816.3 551.3L817.2 547.2L818.1 548.2L819.1 549.6L819.8 547.5L820.7 548.5L821.6 548.0L822.6 551.5L823.4 549.7L824.4 551.4L825.4 548.9L826.1 551.3L827.0 550.7L828.1 552.7L828.8 551.1L829.7 549.7L830.6 549.5L831.6 550.1L832.4 549.6L833.5 549.1L834.3 549.3L835.3 550.5L836.1 549.9L837.1 551.7L837.8 550.4L838.8 554.3L839.6 550.1L840.6 549.6L841.4 549.9L842.3 548.3L843.4 549.0L844.1 549.8L845.1 550.2L846.1 550.7L846.9 549.5L847.8 551.9L848.7 550.8L849.5 552.9L850.4 552.0L851.5 552.8L852.3 550.9L853.1 550.9L854.1 551.5L855.1 552.7L855.8 553.9L856.9 552.0L857.8 544.2L858.6 551.9L859.4 550.4L860.4 551.2L861.4 549.4L862.2 550.7L863.2 548.5L864.0 558.0L864.8 550.0L865.7 548.3L866.8 552.6L867.6 549.8L868.6 549.9L869.5 549.4L870.3 550.8L871.2 551.1L872.2 548.9L872.9 550.3L873.9 550.1L874.8 550.4L875.7 550.3L876.5 549.3L877.4 550.3L878.3 550.5L879.4 550.9L880.1 549.9L881.1 548.8L881.9 550.1L882.8 549.9L883.7 548.3L884.7 549.2L885.7 548.4L886.6 550.3L887.4 550.0L888.4 550.3L889.2 543.0L890.2 550.8L890.9 548.9L891.8 549.5L892.7 551.2L893.8 549.1L894.7 549.3L895.6 552.5L896.5 549.9L897.2 549.4L898.1 550.7L899.0 549.6L899.9 549.6L900.9 549.6L901.8 548.9L902.6 549.0L903.6 555.5L904.5 549.6L905.5 537.7L906.2 549.8L907.3 537.5L908.0 549.2L909.0 549.8L910.0 549.9L910.7 543.5L911.7 546.8L912.6 550.0L913.4 550.6L914.3 550.6L915.2 548.3L916.2 548.9L917.0 547.4L917.9 548.0L919.0 551.3L919.8 549.1L920.6 549.6L921.7 550.4L922.6 548.9L923.4 551.5L924.4 550.5L925.1 551.8L926.0 552.0L927.1 546.6L927.9 550.3L928.7 551.9L929.6 550.5L930.7 552.1L931.5 553.8L932.5 551.3L933.2 553.6L934.2 555.9L935.0 551.9L936.1 552.7L937.0 550.2L937.9 551.3L938.7 550.9L939.7 545.5L940.4 550.4L941.4 550.0L942.4 548.2L943.3 550.2L944.0 550.9L944.9 548.9L945.9 549.2L946.9 550.6L947.7 550.7L948.5 549.1L949.5 550.2L950.3 550.3L951.4 550.4L952.3 550.9L953.1 549.8L954.1 551.8L955.0 551.9L955.9 552.7L956.6 551.9L957.5 552.5L958.6 551.3L959.4 552.2L960.4 551.5L961.2 550.6L962.2 551.2L963.1 551.9L963.8 551.8L964.9 547.6L965.6 547.6L966.5 551.0L967.5 549.8L968.5 551.7L969.4 550.3L970.1 550.9L971.0 549.7L971.9 550.6L973.0 551.2L973.8 543.7L974.6 548.5L975.6 552.3L976.5 548.6L977.4 551.3L978.2 551.1L979.1 550.1L980.0 551.1L980.9 551.4L982.0 552.8L982.7 551.1L983.8 545.1L984.5 552.8L985.6 551.0L986.3 552.3L987.3 551.4L988.3 551.0L989.0 551.4L990.0 552.4L990.9 550.4L991.9 551.4L992.7 549.3L993.6 549.2L994.4 552.8L995.5 547.9L996.4 550.7L997.3 549.3L998.2 549.1L999.1 549.7L999.8 549.4L1000.9 548.6L1001.6 549.6L1002.6 555.2L1003.6 549.7L1004.5 545.6L1005.2 549.9L1006.1 550.1L1007.1 550.5L1008.0 549.9L1008.8 553.3L1009.7 552.3L1010.8 550.2L1011.6 551.7L1012.5 550.3L1013.3 551.5L1014.2 552.4L1015.3 551.0L1016.2 549.3L1017.0 551.5L1017.9 550.8L1018.9 551.8L1019.7 550.2L1020.5 550.5L1021.4 548.4L1022.5 552.4L1023.4 549.8L1024.1 550.2L1025.2 549.7L1025.9 550.4L1027.0 552.0L1027.8 552.0L1028.7 550.3L1029.7 549.3L1030.6 552.6L1031.4 549.6L1032.4 551.5L1033.2 551.0L1034.0 549.9L1035.1 549.9L1036.0 550.7L1036.8 550.7L1037.6 551.7L1038.7 549.8L1039.6 549.6L1040.3 549.5L1041.3 549.9L1042.2 549.2L1043.0 549.2L1044.1 550.8L1044.8 552.1L1045.9 550.3L1046.7 551.7L1047.7 551.1L1048.4 550.6L1049.4 541.2L1050.4 551.2L1051.1 551.0L1052.0 550.5L1053.0 551.1L1054.0 550.7L1054.8 546.4L1055.8 549.9L1056.7 552.1L1057.5 552.0L1058.4 552.0L1059.3 557.8L1060.2 551.7L1061.2 557.6L1061.9 557.6L1063.0 552.9L1063.8 550.9L1064.6 549.8L1065.6 549.5L1066.4 550.0L1067.3 549.9L1068.4 551.4L1069.2 551.7L1070.2 550.5L1071.1 548.0L1071.9 548.5L1072.8 551.0L1073.7 551.4L1074.6 551.3L1075.4 551.7L1076.3 550.1L1077.3 552.3L1078.1 550.8L1079.2 551.6L1080.1 550.4L1080.9 549.2L1081.8 549.7L1082.8 549.3L1083.7 550.0L1084.6 556.0L1085.3 548.4L1086.4 551.1L1087.2 551.3L1088.1 552.8L1088.9 551.7L1090.0 553.2L1090.9 552.2L1091.7 553.7L1092.7 553.3L1093.6 552.6L1094.3 559.6L1095.4 554.1L1096.1 552.1L1097.1 552.8L1098.0 552.0L1099.0 549.5L1099.9 553.0L1100.7 552.7L1101.5 552.2L1102.4 551.4L1103.4 544.8L1104.4 551.2L1105.1 553.0L1106.2 554.4L1107.0 554.6L1108.0 553.9L1108.7 550.5L1109.7 541.4L1110.7 553.6L1111.4 550.8L1112.3 550.9L1113.3 549.7L1114.2 544.1L1115.0 549.7L1115.9 547.6L1116.9 549.2L1117.7 544.6L1118.6 550.7L1119.5 549.9L1120.4 551.2L1121.5 554.4L1122.2 550.9L1123.2 554.4L1124.0 553.9L1125.1 553.2L1126.0 552.6L1126.7 552.2L1127.7 537.6L1128.6 551.3L1129.4 551.4L1130.5 552.0L1131.2 553.1L1132.3 551.3L1133.0 552.9L1134.0 553.5L1134.9 552.0L1135.9 551.8L1136.6 553.0L1137.5 553.2L1138.4 552.0L1139.3 552.2L1140.4 551.4L1141.2 550.9L1142.2 552.6L1143.0 553.5L1144.0 553.1L1144.8 551.0L1145.6 551.4L1146.5 551.9L1147.5 548.3L1148.3 549.4L1149.3 550.7L1150.1 548.3L1151.1 546.7L1152.0 552.7L1153.0 551.1L1153.8 546.2L1154.8 545.5L1155.6 552.7L1156.5 552.2L1157.5 551.2L1158.3 553.1L1159.3 551.2L1160.2 553.0L1161.0 549.4L1162.0 556.4L1162.7 552.7L1163.6 549.7L1164.7 552.3L1165.4 551.6L1166.5 551.5L1167.2 553.3L1168.2 551.2L1169.0 552.2L1170.1 549.9L1171.0 552.6L1171.7 550.2L1172.6 552.3L1173.7 549.4L1174.6 549.8L1175.4 552.5L1176.4 552.4L1177.1 551.4L1178.0 546.1L1179.1 551.3L1179.9 551.3L1180.9 552.1L1181.8 553.8L1182.7 554.4L1183.6 553.3L1184.5 553.2L1185.2 555.1L1186.3 553.3L1187.2 553.0L1188.0 553.1L1189.0 550.5L1189.8 550.5L1190.6 552.8L1191.6 553.8L1192.4 551.9L1193.5 552.7L1194.2 552.4L1195.1 551.9L1196.1 553.8L1196.9 551.2L1197.9 552.7L1198.8 552.3L1199.6 552.2L1200.5 549.4L1201.5 551.7L1202.3 552.2L1203.4 551.8L1204.1 552.1L1205.2 552.2L1205.9 551.8L1206.8 550.9L1207.8 552.9L1208.8 551.5L1209.6 552.1L1210.4 552.1L1211.4 551.5L1212.3 552.7L1213.1 554.9L1214.1 551.7L1215.1 551.4L1216.0 547.8L1216.7 552.4L1217.6 550.2L1218.6 552.0L1219.5 552.7L1220.3 550.2L1221.2 554.3L1222.1 551.4L1223.1 551.7L1224.0 552.6L1225.0 558.0L1225.7 551.0L1226.7 551.2L1227.7 550.8L1228.4 560.7L1229.4 553.0L1230.2 553.3L1231.3 554.6L1232.0 551.9L1233.1 551.5L1233.9 551.2L1234.9 552.6L1235.8 551.1L1236.5 550.5L1237.4 550.6L1238.3 552.1L1239.3 551.3L1240.2 551.0L1241.1 554.3L1241.9 554.1L1242.8 555.2L1243.8 555.3L1244.7 540.8L1245.5 553.4L1246.6 553.0L1247.4 553.4L1248.4 552.2L1249.3 544.2L1250.0 547.9L1251.1 551.4L1251.9 551.6L1252.9 551.4L1253.7 552.5L1254.7 551.6L1255.5 552.7L1256.3 551.2L1257.3 553.1L1258.1 552.7L1259.2 554.2L1260.1 555.6L1260.8 554.1L1261.9 555.2L1262.7 554.3L1263.6 554.3L1264.5 551.5L1265.3 553.0L1266.4 552.2L1267.1 551.8L1268.2 550.3L1269.0 551.4L1270.0 551.8L1270.7 550.7L1271.8 551.4L1272.5 553.2L1273.6 547.3L1274.5 547.3L1275.4 553.2L1276.3 553.7L1277.0 552.1L1277.9 551.8L1279.0 555.0L1279.9 550.3L1280.8 550.3L1281.7 549.3L1282.6 550.8L1283.3 549.6L1284.3 551.3L1285.1 551.9L1286.2 552.0L1286.9 551.9L1288.0 553.6L1288.8 551.8L1289.8 552.9L1290.6 552.5L1291.4 553.3L1292.5 553.1L1293.4 553.3L1294.1 554.5L1295.2 554.3L1296.0 552.7L1297.0 550.1L1297.9 552.5L1298.8 550.8L1299.6 550.1L1300.6 551.4L1301.3 550.6L1302.3 551.3L1303.2 549.7L1304.0 551.4L1305.1 554.1L1306.0 553.5L1306.8 554.8L1307.6 554.1L1308.5 554.7L1309.6 554.9L1310.3 552.6L1311.2 553.4L1312.2 553.0L1313.2 551.9L1313.9 551.3L1314.8 540.3L1315.7 540.3L1316.7 550.4L1317.7 550.9L1318.4 553.0L1319.4 551.6L1320.4 552.4L1321.1 552.7L1322.0 545.7L1323.1 552.7L1324.0 552.5L1324.9 553.2L1325.8 551.6L1326.7 554.1L1327.4 553.0L1328.3 540.6L1329.2 552.7L1330.3 553.3L1331.1 553.8L1331.9 551.0L1333.0 551.4L1333.8 551.6L1334.6 552.0L1335.7 551.5L1336.6 552.1L1337.3 554.7L1338.2 539.6L1339.3 553.8L1340.0 554.0L1341.1 557.7L1341.9 558.9L1342.9 553.5L1343.7 553.9L1344.7 552.3L1345.5 553.3L1346.3 552.4L1347.4 552.4L1348.2 552.3L1349.1 551.2L1349.9 552.0L1350.9 551.0L1351.8 551.5L1352.7 553.2L1353.5 551.7L1354.6 555.2L1355.3 553.8L1356.4 554.3L1357.1 554.8L1358.0 553.4L1359.1 552.2L1360.0 543.4L1360.9 553.2L1361.7 555.0L1362.5 553.8L1363.6 555.6L1364.5 555.4L1365.3 554.4L1366.1 555.0L1367.0 554.5L1368.1 553.1L1368.8 553.9L1369.8 552.7L1370.6 555.0L1371.7 553.2L1372.6 553.2L1373.4 553.3L1374.4 554.0L1375.3 552.0L1376.0 550.5L1377.0 551.6L1378.0 552.4L1378.7 554.0L1379.8 552.7L1380.5 552.3L1381.4 538.1L1382.3 538.1L1383.3 551.9L1384.2 550.3L1385.0 551.9L1386.0 552.0L1386.8 553.0L1387.8 554.9L1388.7 553.1L1389.5 553.8L1390.5 553.6L1391.4 553.9L1392.3 554.5L1393.2 552.6L1394.1 554.5L1395.0 553.3L1395.8 554.2L1396.7 541.1L1397.7 554.4L1398.7 561.1L1399.6 553.1L1400.4 552.6L1401.3 552.0L1402.3 553.1L1403.0 552.3L1404.1 551.8L1404.9 550.7L1405.7 552.5L1406.8 552.8L1407.5 552.1L1408.5 552.3L1409.4 553.0L1410.4 551.6L1411.2 551.6L1412.0 551.2L1413.1 554.6L1413.8 552.4L1414.8 553.1L1415.7 553.0L1416.7 553.5L1417.6 552.7L1418.4 553.8L1419.4 552.6L1420.1 552.8L1421.1 550.9L1422.0 551.6L1423.0 554.1L1423.8 554.0L1424.6 552.3L1425.6 551.9L1426.5 553.5L1427.4 552.6L1428.2 553.2L1429.1 552.9L1430.1 545.3L1431.1 553.9L1431.9 553.4L1432.7 551.3L1433.7 551.4L1434.7 550.5L1435.6 551.2L1436.5 551.1L1437.3 550.2L1438.3 552.2L1439.1 560.9L1440.1 552.0L1440.8 542.2L1441.7 550.7L1442.6 554.2L1443.6 554.0L1444.6 553.3L1445.3 551.9L1446.3 550.9L1447.1 546.2L1448.1 550.9L1449.1 552.6L1450.0 552.0L1450.9 554.5L1451.7 552.2L1452.5 554.2L1453.6 556.5L1454.5 554.3L1455.3 553.5L1456.3 553.5L1457.2 553.6L1458.0 553.0L1458.8 552.4L1459.7 553.5L1460.7 552.0L1461.6 553.3L1462.5 564.7L1463.4 555.1L1464.4 553.3L1465.3 553.1L1466.0 553.9L1467.0 554.2L1467.9 554.2L1468.7 554.6L1469.8 554.1L1470.5 551.1L1471.4 554.6L1472.4 552.3L1473.2 551.1L1474.1 552.7L1475.1 554.9L1476.1 554.1L1477.0 553.5L1477.8 555.0L1478.8 554.3L1479.6 553.2L1480.4 555.0L1481.4 554.2L1482.4 553.8L1483.1 557.9L1484.1 557.9L1484.9 557.9L1486.0 553.2L1486.9 552.8L1487.8 552.7L1488.7 553.4L1489.5 554.4L1490.5 554.6L1491.4 552.9L1492.2 556.1L1493.1 555.2L1493.9 554.1L1495.0 554.8L1495.7 554.3L1496.7 563.3L1497.6 563.3L1498.5 552.7L1499.4 553.6L1500.2 554.8L1501.1 554.5L1502.2 553.4L1502.9 554.1L1503.8 553.9L1504.7 555.5L1505.6 553.9L1506.6 553.9L1507.4 553.5L1508.3 551.1L1509.4 553.0L1510.2 552.7L1511.1 551.9L1512.0 557.6L1512.9 552.3L1513.9 553.0L1514.6 552.1L1515.6 552.8L1516.4 554.2L1517.5 553.2L1518.3 554.0L1519.3 555.3L1520.2 554.0L1521.1 552.7L1522.0 557.0L1522.9 554.4L1523.8 552.4L1524.7 552.2L1525.6 551.2L1526.4 550.2L1527.3 551.3L1528.2 549.9L1529.2 550.1L1530.1 551.8L1530.8 552.9L1531.8 549.5L1532.7 550.7L1533.5 552.1L1534.6 553.1L1535.3 554.0L1536.2 552.5L1537.2 560.8L1538.2 553.3L1538.9 552.7L1539.9 551.6L1540.7 551.7L1541.6 541.2L1542.6 559.4L1543.5 550.3L1544.5 551.8L1545.2 552.8L1546.1 553.3L1547.0 554.8L1548.0 554.1L1548.9 547.4L1549.9 554.6L1550.6 553.0L1551.7 553.5L1552.6 554.4L1553.5 554.5L1554.2 552.5L1555.3 553.3L1556.2 549.3L1557.1 552.8L1557.9 554.5L1558.8 552.9L1559.7 539.1L1560.7 555.2L1561.6 554.5L1562.3 554.9L1563.4 555.1L1564.1 556.5L1565.0 553.5L1566.1 552.1L1566.8 553.0L1567.7 553.1L1568.6 553.4L1569.7 553.8L1570.4 554.8L1571.4 550.9L1572.4 553.3L1573.1 553.3L1574.2 552.6L1574.9 550.7L1576.0 554.4L1576.7 551.9L1577.6 553.5L1578.5 552.7L1579.4 552.3L1580.4 553.1L1581.3 553.2L1582.1 554.7L1583.1 549.3L1584.1 556.1L1585.0 557.3L1585.9 555.4L1586.7 555.0L1587.5 556.1L1588.5 553.4L1589.4 554.3L1590.2 553.0L1591.2 553.4L1592.1 552.4L1593.1 553.7L1593.9 554.6L1594.7 554.3L1595.8 553.8L1596.6 554.2L1597.4 554.2L1598.4 553.4L1599.4 553.8L1600.2 554.4L1601.1 555.7L1601.9 555.9L1602.9 554.5L1603.9 553.3L1604.6 552.9L1605.7 554.5L1606.4 552.8L1607.5 552.6L1608.4 552.4L1609.3 553.3L1610.2 554.8L1611.0 555.4L1611.9 555.1L1612.9 554.5L1613.7 554.7L1614.6 552.5L1615.4 560.7L1616.3 554.3L1617.2 554.4L1618.1 546.6L1619.1 553.0L1620.0 553.6L1621.0 553.3L1621.7 554.4L1622.8 555.9L1623.5 553.8L1624.6 553.3L1625.5 552.5L1626.2 552.3L1627.1 554.0L1628.0 555.1L1628.9 553.3L1630.0 556.8L1630.7 554.1L1631.7 559.0L1632.5 553.8L1633.5 554.5L1634.5 553.7L1635.3 552.7L1636.2 553.3L1637.0 552.2L1638.0 554.4L1638.8 553.4L1639.8 553.1L1640.7 553.0L1641.6 552.8L1642.5 552.9L1643.4 551.3L1644.2 553.1L1645.1 549.1L1646.2 552.3L1646.9 551.7L1647.8 553.8L1648.8 552.7L1649.7 552.7L1650.5 554.3L1651.5 553.3L1652.5 554.7L1653.4 554.9L1654.1 552.3L1655.2 552.5L1656.0 551.8L1656.9 551.8L1657.9 554.6L1658.6 555.2L1659.5 554.9L1660.5 556.0L1661.5 556.4L1662.2 552.7L1663.1 553.8L1664.2 554.5L1664.9 553.6L1665.8 552.5L1666.9 553.9L1667.7 553.2L1668.5 553.5L1669.5 553.5L1670.4 553.6L1671.3 555.4L1672.2 554.6L1673.2 554.3L1673.9 554.3L1675.0 556.9L1675.9 555.9L1676.6 553.7L1677.7 553.8L1678.6 553.0L1679.4 553.0L1680.3 553.2L1681.3 554.0L1682.1 554.1L1683.0 554.4L1684.0 555.9L1684.8 554.6L1685.7 554.7L1686.7 554.2L1687.4 554.2L1688.3 554.7L1689.3 553.0L1690.3 553.4L1691.0 552.5L1691.9 553.9L1692.8 553.7L1693.7 550.6L1694.6 551.6L1695.7 554.0L1696.6 552.6L1697.4 550.2L1698.2 552.8L1699.2 551.7L1700.2 552.5L1701.1 553.9L1702.0 551.3L1702.7 553.1L1703.8 552.0L1704.6 552.6L1705.5 551.4L1706.4 551.0L1707.4 553.0L1708.2 552.5L1709.1 550.2L1710.1 552.3L1710.8 554.0L1711.8 552.3L1712.6 553.4L1713.7 553.7L1714.4 555.4L1715.4 553.9L1716.4 554.3L1717.1 553.4L1718.0 554.4L1719.0 554.4L1719.9 553.4L1720.7 552.4L1721.7 551.9L1722.7 553.7L1723.5 553.4L1724.5 551.9L1725.3 552.7L1726.2 553.3L1727.0 544.3L1728.0 554.9L1728.8 555.3L1729.8 555.1L1730.6 554.3L1731.7 553.7L1732.4 553.7L1733.3 553.7L1734.4 556.7L1735.2 555.2L1736.1 552.8L1736.9 555.0L1738.0 554.9L1738.9 551.9L1739.6 552.9L1740.5 552.8L1741.5 556.1L1742.5 555.5L1743.3 555.3L1744.3 554.6L1745.1 554.7L1746.0 555.5L1746.8 560.1L1747.8 553.3L1748.7 554.3L1749.5 553.4L1750.5 553.4L1751.5 553.4L1752.2 554.0L1753.1 551.1L1754.0 557.1L1755.1 553.5L1756.0 552.2L1756.7 553.3L1757.8 554.1L1758.7 553.0L1759.4 554.2L1760.5 556.2L1761.3 555.3L1762.1 554.2L1763.1 554.2L1763.9 554.4L1764.8 554.4L1765.8 556.3L1766.7 557.2L1767.6 557.9L1768.5 554.5L1769.4 555.1L1770.2 553.8L1771.3 552.0L1772.1 553.2L1772.9 552.7L1773.8 553.3L1774.9 553.3L1775.8 551.1L1776.6 553.3L1777.6 557.3L1778.3 553.7L1779.4 553.8L1780.2 552.2L1781.2 553.5L1782.0 552.9L1783.0 553.7L1783.8 554.8L1784.6 554.7L1785.5 553.2L1786.5 553.6L1787.4 554.5L1788.3 554.1L1789.3 555.5L1790.2 554.5L1790.9 555.2L1791.8 553.6L1792.9 553.9L1793.8 553.1L1794.7 553.2L1795.4 552.7L1796.3 552.4L1797.3 552.7L1798.1 553.6L1799.0 554.2L1800.0 551.6L1801.0 553.4L1801.8 559.6L1802.7 553.7L1803.6 553.7L1804.5 553.7L1805.3 554.1L1806.4 554.0L1807.1 553.4L1808.0 553.6L1809.1 554.5L1809.9 552.9L1810.9 553.5L1811.6 553.5L1812.7 545.2L1813.4 553.0L1814.5 552.5L1815.2 554.1L1816.2 553.5L1817.2 556.4L1818.0 556.0L1819.0 557.0L1819.8 556.8L1820.7 557.2L1821.7 553.9L1822.5 555.4L1823.5 554.8L1824.4 554.0L1825.2 552.8L1826.1 552.5L1827.1 554.1L1828.0 553.1L1828.9 553.8L1829.7 553.9L1830.7 554.9L1831.5 554.9L1832.5 556.6L1833.3 554.7L1834.1 551.3L1835.2 542.5L1835.9 556.6L1836.8 549.3L1837.9 554.7L1838.8 554.7L1839.6 559.2L1840.6 553.4L1841.4 555.3L1842.3 556.0L1843.3 553.4L1844.0 554.3L1845.0 556.4L1846.0 560.8L1846.8 550.5L1847.8 554.3L1848.5 555.3L1849.5 554.9L1850.3 554.2L1851.2 552.6L1852.3 553.7L1853.1 557.8L1854.0 555.1L1854.9 556.1L1855.8 554.9L1856.7 554.7L1857.7 555.5L1858.4 554.9L1859.4 554.9L1860.2 554.5L1862.0 554.5" stroke="#ce703c"/>
<circle cx="1862" cy="553.0" r="3.9" fill="#64c869"/><circle cx="1862" cy="521.5" r="3.9" fill="#d44272"/><circle cx="1862" cy="529.0" r="3.9" fill="#5f80d6"/><circle cx="1862" cy="554.5" r="3.9" fill="#ce703c"/>
</g>
</svg>
</body></html>
